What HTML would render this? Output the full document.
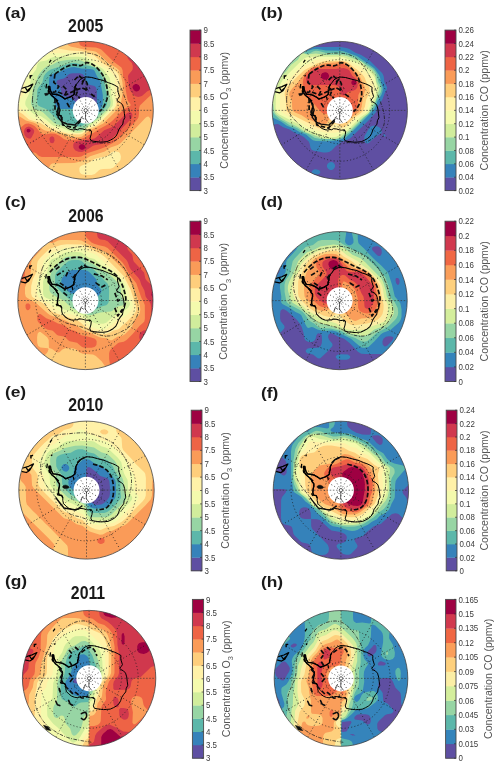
<!DOCTYPE html>
<html><head><meta charset="utf-8"><title>Figure</title><style>html,body{margin:0;padding:0;background:#fff}
svg{display:block}
text{font-family:"Liberation Sans",sans-serif}
.tk{font-size:9px;fill:#3a3a3a}
.ct{font-size:10.55px;fill:#555}
.lb{font-size:15px;font-weight:bold;fill:#1a1a1a}
.tt{font-size:17.6px;font-weight:bold;fill:#1a1a1a}
</style></head><body>
<svg width="500" height="767" viewBox="0 0 500 767">
<defs>
<clipPath id="cla"><ellipse cx="85.7" cy="110.3" rx="67.6" ry="69.0"/></clipPath>
<clipPath id="clb"><ellipse cx="339.8" cy="110.4" rx="67.6" ry="69.0"/></clipPath>
<clipPath id="clc"><ellipse cx="85.4" cy="300.5" rx="67.6" ry="69.1"/></clipPath>
<clipPath id="cld"><ellipse cx="339.6" cy="300.6" rx="67.6" ry="69.1"/></clipPath>
<clipPath id="cle"><ellipse cx="86.5" cy="490.1" rx="67.7" ry="69.0"/></clipPath>
<clipPath id="clf"><ellipse cx="340.9" cy="490.2" rx="67.7" ry="69.0"/></clipPath>
<clipPath id="clg"><ellipse cx="89.1" cy="678.3" rx="66.7" ry="67.9"/></clipPath>
<clipPath id="clh"><ellipse cx="341.0" cy="678.4" rx="66.8" ry="67.9"/></clipPath>
<g id="coast" fill="none" stroke="#000" stroke-width="1.0" stroke-linejoin="round"><path d="M0.0,-33.4 5.8,-32.9 11.4,-31.4 17.3,-30.0 20.2,-28.8 23.1,-27.6 26.5,-26.5 29.8,-25.0 33.0,-23.1 32.7,-20.4 33.3,-17.7 34.5,-13.9 33.3,-12.1 31.8,-10.3 32.9,-8.8 35.5,-7.6 37.7,-5.3 38.9,-1.4 39.5,3.5 40.0,7.1 38.4,10.3 37.9,13.8 35.6,16.6 33.7,19.5 32.6,22.8 30.9,25.9 28.2,28.2 25.1,29.9 21.9,31.3 18.3,31.6 14.8,31.8 11.4,31.4 8.3,31.0 5.4,30.4 4.4,28.0 5.6,24.3 6.0,20.8 4.5,19.4 1.7,19.8 0.0,19.6 -3.3,18.6 -6.6,18.3 -8.2,19.4 -10.1,19.1 -12.3,19.7 -15.1,19.3 -18.1,18.1 -20.7,16.2 -23.4,13.5 -24.2,10.3 -24.1,7.8 -25.2,5.4 -27.9,4.9 -28.6,2.5 -28.3,-1.0 -27.6,-3.9 -27.6,-6.4 -29.2,-8.4 -30.6,-11.1 -32.9,-13.3 -35.0,-14.9 -36.8,-17.2 -37.7,-20.1 -38.2,-23.8 -36.7,-23.8 -36.4,-21.0 -35.6,-18.9 -34.0,-16.2 -31.3,-16.0 -28.6,-15.5 -26.3,-14.6 -23.3,-12.9 -21.3,-11.3 -19.3,-12.1 -15.9,-13.3 -13.6,-14.6 -11.7,-16.1 -11.8,-18.1 -10.9,-20.6 -10.9,-23.4 -9.5,-26.1 -7.6,-28.2 -6.0,-30.6 -3.4,-32.2 0.0,-33.4Z"/><path d="M-24.1,7.8 -25.2,5.4 -27.9,4.9 -28.6,2.5 -28.3,-1.0 -27.6,-3.9 -27.6,-6.4 -29.2,-8.4 -30.6,-11.1 -32.9,-13.3 -35.0,-14.9 -36.8,-17.2 -37.7,-20.1 -38.2,-23.8 -36.7,-23.8 -36.4,-21.0 -35.6,-18.9 -34.0,-16.2 -31.3,-16.0 -28.6,-15.5 -26.3,-14.6 -23.3,-12.9 -21.3,-11.3 -19.3,-12.1 -15.9,-13.3 -13.6,-14.6 -11.7,-16.1 -11.8,-18.1 -10.9,-20.6 -10.9,-23.4 -9.5,-26.1" stroke-width="1.4"/><path d="M-66.5,-21.6 L-59,-23.8 L-54,-26.2 L-58,-19.6 L-61.3,-17.6 L-66.5,-18.8 M-61.5,-22.5 L-59.5,-19.5 L-57,-22" stroke-width="1.25"/><path d="M-37.2,-47.7 L-35.3,-50.5M-35.8,-34.0 L-35.1,-35.7M-40.5,-22.0 L-39.9,-26.4M-28.2,-9.2 L-31.5,-12.1M-28.6,5.6 L-30.0,3.2M-12.8,-10.3 L-13.5,-13.5M5.1,19.6 L3.9,20.9M-37.6,-17.1 L-38.5,-20.0M-56.7,-31.7 L-56.7,-35.2M-57.2,-33.4 L-54.5,-35.0" stroke-width="1.3"/></g>
<g id="grat" fill="none" stroke="#1a1a1a" stroke-width="0.8" stroke-dasharray="1 2.4"><circle r="16.6" fill="none"/><circle r="33.4" fill="none"/><circle r="50.8" fill="none"/><line x1="0" y1="0" x2="34.5" y2="-59.8"/><line x1="0" y1="0" x2="59.8" y2="-34.5"/><line x1="0" y1="0" x2="59.8" y2="34.5"/><line x1="0" y1="0" x2="34.5" y2="59.8"/><line x1="0" y1="0" x2="-34.5" y2="59.8"/><line x1="0" y1="0" x2="-59.8" y2="34.5"/><line x1="0" y1="0" x2="-59.8" y2="-34.5"/><line x1="0" y1="0" x2="-34.5" y2="-59.8"/><g stroke-dasharray="1.6 1.6" stroke="#333" stroke-width="0.65"><line x1="-69.0" y1="0" x2="69.0" y2="0"/><line x1="0" y1="-69.0" x2="0" y2="69.0"/></g></g>
<filter id="bl" x="-5%" y="-5%" width="110%" height="110%"><feGaussianBlur stdDeviation="0.45"/></filter>
</defs>
<rect width="500" height="767" fill="#fff"/>
<g clip-path="url(#cla)"><g filter="url(#bl)">
<circle cx="85.7" cy="110.3" r="72.0" fill="#5e4fa2"/>
<circle cx="85.7" cy="110.3" r="69.0" fill="#5e4fa2"/>
<path fill="#3682ba" fill-rule="evenodd" d="M4,28 166,28 166,190 4,190ZM72.6,73.2 69.7,73.8 68.2,74.7 65.4,77.6 63.8,78.5 59.5,79.4 57.1,80.5 56.4,82 56.8,83.5 60.3,87.8 61.5,93.7 62.4,95.2 63.8,96.3 69.7,97.5 71.1,98.2 75.5,102.1 81.4,103.2 82.9,103.9 84.6,105.4 87.2,111.4 88.6,113.2 90.1,113.5 93,112.7 94.5,111.3 95.3,109.7 96.8,103.9 96.9,92.2 96.2,87.8 94.5,85.9 88.6,84.6 86.6,83.5 85.6,82 84.4,76.2 82.8,74.2 79.9,73.2Z"/>
<path fill="#5cb7aa" fill-rule="evenodd" d="M4,28 166,28 166,190 4,190ZM71.1,67.2 64.9,68.9 59.5,71.9 58,72.6 53.6,73.4 50.7,75.2 49.4,77.6 49.1,79.1 49,90.8 49.5,93.7 50.2,95.1 54.2,99.5 55.4,105.4 56.1,106.8 57.8,108.3 60.9,108.9 77,109.1 79.9,109.5 82.1,111.2 84.3,116.2 85.7,117.9 87.2,118.5 88.6,118.5 91.6,117.6 94.5,116 97.4,113.3 101.7,106.8 102.8,103.9 102.8,95.1 100.3,81.2 97,76.2 94.5,70.8 93,69.6 90.1,69 81.4,68.5 74.1,67.1Z"/>
<path fill="#97d5a4" fill-rule="evenodd" d="M4,28 166,28 166,190 4,190ZM71.1,62.9 50.7,69.5 47.8,71.4 45.9,73.2 43.8,76.2 42.5,82 41.9,83.5 39,86.7 37.5,89.3 37.1,92.2 37.2,102.4 37.5,103.9 38.3,105.4 40.4,106.8 44.9,108.4 47.3,109.7 58,120 63.8,121.3 69.1,124.3 72.6,125.6 77,126.6 79.9,126.6 82.2,125.8 85.7,123.5 93,119.8 100.6,112.6 106,106.8 107.1,103.9 107.1,95.1 105,87.8 104.5,83.5 103.7,80.5 99.3,71.8 97,68.9 94.5,67.4 88.6,65.8 81.4,64.8 75.5,63Z"/>
<path fill="#d1ed9c" fill-rule="evenodd" d="M4,28 166,28 166,190 4,190ZM66.8,60 58,61.5 52.7,64.5 46.3,66.8 43.4,69 39.8,73.2 37.8,76.2 36.2,82 33.1,87.8 32.4,95.1 31.2,101 31.2,103.9 32.4,106.8 33.8,108.3 36.1,109.7 40.5,111.1 43.3,112.6 53.6,122.5 56.3,124.3 65.3,126.2 75.5,130.8 79.9,131.1 82.8,130 90.8,122.9 97.4,119 107.6,109.3 109.6,106.8 110.2,105.4 110.6,102.4 110.2,99.5 107.6,87.8 106.6,80.5 103.1,73.2 100.3,69.4 98.9,68.5 92,65.9 87.2,62.9 79.4,60.1 74.1,59.4Z"/>
<path fill="#f4faad" fill-rule="evenodd" d="M4,28 166,28 166,190 4,190ZM53.6,57 50.7,58 46.3,60.4 40.5,61.4 38.2,63 37.4,64.5 36.1,69.5 32,74.7 31.4,76.2 29.7,86.4 29,93.7 25.5,101 25.2,103.9 25.6,105.4 28.8,109.7 33.2,113.6 34.6,114.4 40.5,116.1 46.3,119.8 51.2,124.3 53.6,125.8 62.4,128.1 72.6,132.2 77,132.9 81.4,132.6 83.3,131.6 87.2,127.8 100.3,118.8 110.7,108.3 112.8,105.4 113.1,101 111,93.7 110.5,82 109.5,77.6 103,68.9 100.5,67.4 94.5,65.2 88.6,60.1 84.3,57.8 81.4,56.9 78.4,56.7Z"/>
<path fill="#fff1a8" fill-rule="evenodd" d="M31,28 166,28 166,190 4,190 4,73 20.1,73.1 23,74.2 24.4,76.2 24.9,80.5 24.6,92.2 23.1,95.1 19.6,99.5 19.2,101 19.1,103.9 19.5,105.4 21.4,108.3 28.6,115.6 32.8,118.5 39,119.6 41.9,120.5 44.9,122.1 50.7,126.3 58,128.7 66.8,132.2 71.1,132.9 77,133 79.9,132.9 82.8,132 87.2,127.9 93,125.5 101.1,119.9 113.5,107.6 114.6,105.4 114.9,103.9 114.9,79.1 114.2,76.2 110.7,71.8 107.6,69.5 97.4,63.9 91.6,58.8 89.2,57.2 84.3,54.7 81.4,53.6 78.4,53.3 53.6,53.2 46.3,53.9 44.9,53.5 39,48.2 32.2,41.1 31.2,38.2Z"/>
<path fill="#fece7c" fill-rule="evenodd" d="M49,28 166,28 166,190 4,190 4,108.9 12.8,108.9 15.7,109.7 23,114.3 28.8,119.4 40.4,122.9 47.8,127.6 53.6,129.5 58.8,131.6 69.7,134.3 78.4,134.6 81.4,134.2 82.8,133.6 88.6,128.7 94.5,126.6 97.4,125 101.8,121.1 114.6,108.3 116.2,105.4 117.2,99.5 119,93.7 119.3,89.3 119.2,77.6 118.5,74.7 116.6,71.8 113.5,69.4 103.2,63.8 94.5,55.8 91.6,54.2 81.4,50.9 69.7,50.5 59.5,48.7 56.5,47.5 50.7,41.7 49.5,39.7 49,36.8ZM112,152.1 107.6,155.8 106.2,156.5 100.3,157.5 94.5,159.1 88.6,162.8 81.4,165.8 80.3,166.6 79.4,168.1 79.4,171 79.9,172.5 81.3,173.9 82.8,174.6 85.7,175 91.6,174.9 94.9,173.9 98.9,170.2 100.3,169.5 103.2,169 110.5,168.8 113.5,167.6 120,160.8 120.6,159.4 120.9,156.4 120.1,153.5 118.7,152.1 114.9,151.3Z"/>
<path fill="#fa9b58" fill-rule="evenodd" d="M67,28 166,28 166,133 155.8,132.8 152.9,131.7 151.7,130.2 151.2,128.7 150.9,121.4 150.3,118.5 148.5,116.6 147,116.7 145.6,117.7 138,125.8 120.8,143 117.8,145.1 110.5,147.5 104.7,151.4 90.1,156.3 84.3,160 81.4,161.3 74.1,163 55.1,163.2 52.2,163.6 50.7,164.5 49.4,166.6 48.2,172.5 44.2,176.9 43.5,178.3 43,181.2 43,190 4,190 4,115.1 14.2,115.3 20.1,116.8 25.9,120.4 33.2,122.4 36.1,123.8 41.9,128.8 44.9,130.5 52.2,131.7 60.9,133.7 69.7,136.9 72.6,137.3 78.4,137.3 81.4,136.8 82.8,136 88.6,131.3 103.2,123.4 117.2,109.7 120.4,105.4 122.6,93.7 122.7,84.9 122.4,82 120.7,74.7 119.1,70.3 116.4,67.8 108.2,63 98.9,53.9 95.9,51.8 93,50.9 87.2,50.2 75.5,47.4 71.1,46.7 68.5,45.5 67.5,44.1 67.1,42.6Z"/>
<path fill="#ee6445" fill-rule="evenodd" d="M79,28 166,28 166,93 154.3,93.4 151.4,94.8 148.5,97.3 139.9,105.4 139.1,108.3 139,114.1 138.5,117 137.9,118.5 135.5,121.4 116.4,140.5 112.3,143.3 104.7,147.2 100.3,149 87.2,153.3 81.4,156.4 78.4,156.9 41.9,156.9 39,155.9 36.1,153.3 34.6,152.6 33.2,152.6 31.7,153.5 26.9,157.9 17.1,167.8 14.2,168.8 4,169 4,133 12.8,132.9 15.7,132.5 17.3,131.6 21.1,127.2 24.4,124.4 25.9,123.7 28.8,123.5 31.7,124.4 34.6,126.1 37.3,128.7 40.5,133 41.9,133.8 44.9,134.4 50.7,133.5 55.1,133.8 59.5,135.8 63.8,139 68.2,140.4 81.4,138.7 84.3,137.8 88.6,135 93,133.2 98.9,129.2 108,124.3 111.6,121.4 123.7,109.6 126.6,107.8 129,106.8 130.6,105.4 130.4,103.9 128.1,101 127.5,99.5 125.6,89.3 125,82 123.1,76.2 122.6,70.3 121.4,67.4 113.4,61.6 101.8,50.1 100.3,49.1 95.9,47.5 84.3,46.9 82.8,46.6 80.5,45.5 79.5,44.1 79.1,42.6Z"/>
<path fill="#d0384e" fill-rule="evenodd" d="M133,28 166,28 166,89 155.8,89.1 149.9,90.1 147,91.5 142.6,95.5 141.2,96.3 138.3,96.9 135.4,96.3 133.9,95.3 130.3,90.8 129.1,87.8 128,76.2 128.5,74.7 132.2,70.3 132.7,68.9 132.8,65.9 131.9,63 128.1,58.9 127.4,57.2 127,49.9 127.8,45.5 131.8,41.1 132.5,39.7 133,36.8ZM127.9,112.6 129.5,112.2 131,112.3 132.4,114 132.4,116.3 131.5,118.5 113,137.5 107.8,141.8 101.8,144 94.5,145.2 93,145.7 88.2,149.1 82.8,151.8 81.4,152.1 78.4,151.8 75.5,150.6 74.1,149.1 73.4,147.7 73.2,144.8 73.7,143.3 75.2,141.8 78.4,140.9 84.3,140.3 94.5,138.4 95.9,137.5 104.2,130.2 110.5,127.8 113.5,126.2 123.7,116ZM26.4,127.2 28.8,126.6 30.3,126.9 33.1,128.7 34.1,130.2 34.2,131.6 33.9,133.1 31.7,137.3 30.3,138.7 28.8,138.6 26.5,137.5 25.1,136 24.4,134.5 23.9,131.6 24.2,130.2 24.9,128.7ZM49.9,137.5 50.7,136.7 52.2,136.3 54.1,137.5 54.6,140.4 53.6,142.7 52.5,143.3 50.7,143 49.9,141.8 49.4,138.9ZM32.7,140.4 33.5,140.4 34.6,142 33.2,142.3 32.7,141.8Z"/>
<path fill="#9e0142" fill-rule="evenodd" d="M133.5,84.9 135.4,84 136.8,84.1 138.6,84.9 139.7,86.4 140,87.8 139.8,89.3 138.7,90.8 136.8,91.5 135.4,91.2 133.9,90.3 132.5,87.8 132.6,86.4ZM27.4,128.9 29.3,128.7 30.7,130.2 30.3,131.6 28.8,132.6 27.4,132.3 26.8,131.6 26.6,130.2ZM80,144.8 81.4,144.3 82.8,144.3 84.3,144.9 85.2,146.2 85.2,147.7 84.3,149.1 82.8,149.7 81.4,149.8 79.8,149.1 78.8,147.7 78.8,146.2Z"/>
<ellipse cx="85.7" cy="110.3" rx="13.0" ry="13.3" fill="#fff"/>
<g transform="translate(85.7,110.3) scale(0.9797,1.0000)"><use href="#grat"/><use href="#coast"/>
<g fill="none" stroke="#222" stroke-width="0.7" stroke-linejoin="round"><circle r="1.7" fill="#fff"/><path d="M0,1.7 L-0.3,8.4 L2.7,12.3"/><path d="M-5.8,11.6 L-4.6,7 L-1.6,8.8"/></g>
</g>
<path d="M32.5,99.5 32.6,97.1 32.9,94.5 33.3,91.9 33.9,89.3 34.7,86.8 35.5,84.5 36.4,82.3 37.5,80.3 38.7,78.3 40.0,76.4 41.4,74.5 43.0,72.5 44.7,70.4 46.6,68.3 48.5,66.1 50.6,64.1 52.8,62.2 55.0,60.5 57.3,59.1 59.8,57.9 62.3,56.8 64.9,55.9 67.5,55.2 70.0,54.5 72.5,53.9 75.1,53.5 77.7,53.2 80.2,53.0 82.7,53.0 85.0,53.0 87.2,53.1 89.3,53.4 91.4,53.7 93.3,54.1 95.2,54.7 97.0,55.4 98.7,56.2 100.3,57.1 101.8,58.2 103.2,59.4 104.6,60.6 106.0,62.0 107.4,63.5 108.7,65.2 109.9,66.9 111.2,68.7 112.4,70.6 113.5,72.5 114.6,74.4 115.6,76.3 116.6,78.2 117.6,80.2 118.5,82.3 119.5,84.5 120.5,86.8 121.6,89.3 122.6,91.8 123.6,94.4 124.6,97.0 125.5,99.5 126.4,102.0 127.3,104.6 128.2,107.1 129.0,109.6 129.6,112.1 130.0,114.5 130.2,116.8 130.4,119.1 130.4,121.4 130.1,123.6 129.5,125.8 128.5,128.0 127.0,130.3 124.9,132.6 122.6,135.0 120.1,137.2 117.5,139.1 115.0,140.6 112.6,141.7 110.2,142.4 107.8,142.8 105.3,143.0 102.7,143.0 100.0,143.0 97.1,142.8 94.0,142.4 90.8,141.9 87.7,141.3 84.7,140.6 82.0,140.0 79.7,139.4 77.6,138.8 75.6,138.1 73.8,137.4 71.9,136.7 70.0,136.1 68.0,135.5 66.0,135.0 64.0,134.5 62.0,134.0 60.0,133.3 58.0,132.5 56.0,131.5 53.9,130.5 51.9,129.3 49.9,128.0 47.9,126.6 46.0,125.0 44.1,123.3 42.1,121.4 40.2,119.4 38.4,117.3 36.8,115.1 35.5,113.0 34.5,110.9 33.7,108.7 33.2,106.4 32.8,104.2 32.6,101.9Z" fill="none" stroke="#1a1a1a" stroke-width="0.75" stroke-dasharray="3.6 1.4 0.9 1.4"/>
<path d="M55.0,74.0 55.8,73.4 56.9,72.6 58.2,71.7 59.6,70.7 61.1,69.7 62.5,68.9 63.9,68.1 65.4,67.3 66.9,66.6 68.4,65.9 70.0,65.4 71.5,65.0 73.0,64.9 74.6,65.0 76.1,65.2 77.7,65.5 79.1,65.7 80.5,65.6 81.8,65.2 82.9,64.6 84.0,63.9 85.1,63.2 86.2,62.7 87.4,62.6 88.7,62.8 90.0,63.2 91.4,63.8 92.8,64.6 94.2,65.5 95.5,66.5 96.8,67.7 98.2,69.1 99.5,70.6 100.8,72.2 102.0,73.9 103.0,75.5 103.9,77.2 104.6,78.9 105.2,80.7 105.7,82.4 106.2,84.2 106.6,86.0 107.0,87.8 107.3,89.5 107.5,91.3 107.6,93.0 107.6,94.8 107.5,96.5 107.2,98.2 106.7,100.0 106.0,101.8 105.3,103.5 104.6,105.0 103.9,106.4 103.1,107.6 102.3,108.6 101.4,109.6 100.6,110.4 99.9,111.0 99.4,111.5" fill="none" stroke="#0d0d0d" stroke-width="1.7" stroke-dasharray="4.6 2" stroke-linejoin="round" stroke-linecap="butt"/>
<path d="M55.0,74.0 53.8,82.4 58.9,86.6 55.0,92.0 47.5,93.5" fill="none" stroke="#0d0d0d" stroke-width="1.7" stroke-dasharray="4.6 2" stroke-linejoin="round" stroke-linecap="butt"/>
<path d="M58.0,92.0 65.5,95.0 74.5,90.8 82.0,87.8 88.6,90.8" fill="none" stroke="#0d0d0d" stroke-width="1.7" stroke-dasharray="4.6 2" stroke-linejoin="round" stroke-linecap="butt"/>
<path d="M55.0,98.6 55.0,110.0 61.0,116.0 62.8,125.0 74.2,128.0 80.5,121.1" fill="none" stroke="#0d0d0d" stroke-width="1.7" stroke-dasharray="4.6 2" stroke-linejoin="round" stroke-linecap="butt"/>
<path d="M74.5,80.0 79.0,75.5 83.5,80.0 82.0,84.5" fill="none" stroke="#0d0d0d" stroke-width="1.7" stroke-dasharray="4.6 2" stroke-linejoin="round" stroke-linecap="butt"/>
<path d="M63.0,86.0 67.0,90.0 65.0,95.0" fill="none" stroke="#0d0d0d" stroke-width="1.7" stroke-dasharray="4.6 2" stroke-linejoin="round" stroke-linecap="butt"/>
<path d="M74.0,87.0 78.0,90.0 76.0,95.0 80.0,98.0" fill="none" stroke="#0d0d0d" stroke-width="1.7" stroke-dasharray="4.6 2" stroke-linejoin="round" stroke-linecap="butt"/>
<path d="M82.0,82.0 85.0,79.0 87.4,84.0 86.0,90.0 90.0,88.0" fill="none" stroke="#0d0d0d" stroke-width="1.7" stroke-dasharray="4.6 2" stroke-linejoin="round" stroke-linecap="butt"/>
<path d="M91.0,94.0 95.0,97.0" fill="none" stroke="#0d0d0d" stroke-width="1.7" stroke-dasharray="4.6 2" stroke-linejoin="round" stroke-linecap="butt"/>
<path d="M67.0,103.0 70.0,108.0" fill="none" stroke="#0d0d0d" stroke-width="1.7" stroke-dasharray="4.6 2" stroke-linejoin="round" stroke-linecap="butt"/>
<path d="M57.0,102.0 60.0,110.0 58.0,117.0 62.0,122.0 67.0,124.0 75.0,125.0 80.0,120.0" fill="none" stroke="#0d0d0d" stroke-width="1.4" stroke-linejoin="round" stroke-linecap="round"/>
<path d="M44.6,93.6 47.4,93.2 48.2,94.8 45.4,95.6Z" fill="#0d0d0d" stroke="#0d0d0d" stroke-width="0.6"/>
</g></g>
<ellipse cx="85.7" cy="110.3" rx="67.6" ry="69.0" fill="none" stroke="#3a3a3a" stroke-width="0.75"/>
<rect x="190.0" y="177.22" width="11" height="13.68" fill="#5e4fa2"/>
<rect x="190.0" y="163.85" width="11" height="13.68" fill="#3682ba"/>
<rect x="190.0" y="150.47" width="11" height="13.68" fill="#5cb7aa"/>
<rect x="190.0" y="137.10" width="11" height="13.68" fill="#97d5a4"/>
<rect x="190.0" y="123.72" width="11" height="13.68" fill="#d1ed9c"/>
<rect x="190.0" y="110.35" width="11" height="13.68" fill="#f4faad"/>
<rect x="190.0" y="96.97" width="11" height="13.68" fill="#fff1a8"/>
<rect x="190.0" y="83.60" width="11" height="13.68" fill="#fece7c"/>
<rect x="190.0" y="70.22" width="11" height="13.68" fill="#fa9b58"/>
<rect x="190.0" y="56.85" width="11" height="13.68" fill="#ee6445"/>
<rect x="190.0" y="43.47" width="11" height="13.68" fill="#d0384e"/>
<rect x="190.0" y="30.10" width="11" height="13.68" fill="#9e0142"/>
<rect x="190.0" y="30.1" width="11" height="160.50" fill="none" stroke="#4a4a4a" stroke-width="0.9"/>
<line x1="199.0" y1="190.60" x2="201.0" y2="190.60" stroke="#333" stroke-width="0.7"/>
<text class="tk" transform="translate(203.4,193.70) scale(0.88,1)">3</text>
<line x1="199.0" y1="177.22" x2="201.0" y2="177.22" stroke="#333" stroke-width="0.7"/>
<text class="tk" transform="translate(203.4,180.32) scale(0.88,1)">3.5</text>
<line x1="199.0" y1="163.85" x2="201.0" y2="163.85" stroke="#333" stroke-width="0.7"/>
<text class="tk" transform="translate(203.4,166.95) scale(0.88,1)">4</text>
<line x1="199.0" y1="150.47" x2="201.0" y2="150.47" stroke="#333" stroke-width="0.7"/>
<text class="tk" transform="translate(203.4,153.57) scale(0.88,1)">4.5</text>
<line x1="199.0" y1="137.10" x2="201.0" y2="137.10" stroke="#333" stroke-width="0.7"/>
<text class="tk" transform="translate(203.4,140.20) scale(0.88,1)">5</text>
<line x1="199.0" y1="123.72" x2="201.0" y2="123.72" stroke="#333" stroke-width="0.7"/>
<text class="tk" transform="translate(203.4,126.82) scale(0.88,1)">5.5</text>
<line x1="199.0" y1="110.35" x2="201.0" y2="110.35" stroke="#333" stroke-width="0.7"/>
<text class="tk" transform="translate(203.4,113.45) scale(0.88,1)">6</text>
<line x1="199.0" y1="96.97" x2="201.0" y2="96.97" stroke="#333" stroke-width="0.7"/>
<text class="tk" transform="translate(203.4,100.07) scale(0.88,1)">6.5</text>
<line x1="199.0" y1="83.60" x2="201.0" y2="83.60" stroke="#333" stroke-width="0.7"/>
<text class="tk" transform="translate(203.4,86.70) scale(0.88,1)">7</text>
<line x1="199.0" y1="70.22" x2="201.0" y2="70.22" stroke="#333" stroke-width="0.7"/>
<text class="tk" transform="translate(203.4,73.32) scale(0.88,1)">7.5</text>
<line x1="199.0" y1="56.85" x2="201.0" y2="56.85" stroke="#333" stroke-width="0.7"/>
<text class="tk" transform="translate(203.4,59.95) scale(0.88,1)">8</text>
<line x1="199.0" y1="43.47" x2="201.0" y2="43.47" stroke="#333" stroke-width="0.7"/>
<text class="tk" transform="translate(203.4,46.57) scale(0.88,1)">8.5</text>
<line x1="199.0" y1="30.10" x2="201.0" y2="30.10" stroke="#333" stroke-width="0.7"/>
<text class="tk" transform="translate(203.4,33.20) scale(0.88,1)">9</text>
<text class="ct" transform="translate(227.6,110.3) rotate(-90)" text-anchor="middle">Concentration O<tspan dy="3.6" font-size="7.4">3</tspan><tspan dy="-3.6"> (ppmv)</tspan></text>
<g clip-path="url(#clb)"><g filter="url(#bl)">
<circle cx="339.8" cy="110.4" r="72.0" fill="#5e4fa2"/>
<circle cx="339.8" cy="110.4" r="69.0" fill="#5e4fa2"/>
<path fill="#3682ba" fill-rule="evenodd" d="M259,28 298.1,28 298.4,38.2 299.9,40.9 301.3,42 307.2,43.6 311.5,46.2 314.5,46.9 340.7,47.1 346.6,47.9 349.5,49.1 355.3,52.8 361.2,55 369.1,60.1 382.3,73.2 383.7,76.2 384.4,82 386.7,86.4 387,87.8 386.8,89.3 384.5,93.5 382.4,99.5 378.7,105.1 375.7,112.6 368.5,120.4 350.9,137.7 348,139.6 341.8,141.8 335.7,146.2 331.6,150.6 329.1,151.9 326.1,152.6 323.2,152.5 313,150.4 311.5,149.4 310.5,147.7 309.5,143.3 308.9,141.8 304.2,137.3 301.3,135.4 295,133.1 289.6,129.6 283.3,127.2 278,124.1 275.1,124.2 272.1,125.9 269.2,126.8 259,127ZM372.3,125.8 375.8,125.8 379.2,127.2 380.7,128.7 381.4,130.2 381.7,133.1 378.7,134.5 371.4,140.4 368.5,143.2 367,143.6 365.5,143 364.8,141.8 364.1,138.9 364.6,136 369.7,127.2ZM382.9,134.5 384.5,134.3 385.8,136 384.5,136.6 383.6,136ZM329.6,162.3 332,162.1 333.4,162.8 334.3,163.7 335,165.2 335,166.6 334.4,168.1 333.4,169.2 332,169.9 330.5,170 329,169.6 327.5,168.1 326.9,166.6 327,165.2 327.6,163.7ZM313.9,169.6 315.9,169.3 318.8,169.9 320.1,171 320.3,172.5 319.2,173.9 317.4,174.6 314.5,174.6 313,174.1 311.7,172.5 311.9,171Z"/>
<path fill="#5cb7aa" fill-rule="evenodd" d="M259,28 291.9,28 292,38.2 292.9,41.1 294,42.6 297.3,45.5 302.8,48.2 305.7,50.3 307.2,50.9 313,49.2 317.4,49.1 326.1,50.5 340.7,50.8 343.6,51.2 356.8,56 367,62.9 374.3,68.2 378.8,74.7 380.1,77.6 380.8,82 382.9,87.8 382.7,90.8 381.6,94.5 377.5,101 375.5,106.8 374.3,109 369.8,114.1 350.9,133 345.8,137.5 342.2,139.1 336.4,140.5 326.1,141.3 315.9,140.9 313,140.2 311.5,139.3 306.1,134.5 299.9,132.3 294,128.5 286.8,125.8 280.9,121.5 274.6,118.5 270.7,115.9 267.8,115.1 259,115Z"/>
<path fill="#97d5a4" fill-rule="evenodd" d="M259,28 274,28 274.2,38.2 275.2,41.1 288.1,54.3 292.6,57.3 294.3,57.2 295.5,55.9 297,51.4 298.4,50.2 299.9,49.9 301.3,50.1 302.8,50.9 305.7,53.4 307.2,53.9 310.1,53.2 313,51.4 315.9,50.8 318.8,51 326.1,53.1 342.2,53.5 350.9,55.4 353.9,56.4 359.2,60.1 364.1,62.8 367,65.1 372.8,68.8 375.3,71.8 376.8,74.7 378.4,82 381,86.4 381.4,89.3 380.8,92.2 377,98.1 374.3,105.4 369.3,112.6 349.5,132.4 342.1,137.5 339.3,138.4 336.4,138.9 320.3,138.9 314.5,137.7 308.6,133.9 302.2,131.6 296.9,128.1 289.6,125.3 285.3,122.2 279.4,118.9 275.1,114.9 273.2,112.6 271.1,105.4 269.8,103.9 267.8,103.1 259,103 259,73 273.6,73 279.6,71.8 282.4,70.5 283.8,68.9 284.8,65.9 284.6,63 278,55.8 271.6,49.9 267.8,49 259,49Z"/>
<path fill="#d1ed9c" fill-rule="evenodd" d="M300.7,54.3 301.3,53.6 302.8,53.6 307.2,54.6 315.9,53.4 326.1,54.9 340.7,55 346.6,55.9 361.3,61.6 365.8,65.9 371.9,70.3 374.3,73 375.2,74.7 376.4,82 379.1,87.8 379.3,89.3 375.4,101 371.6,106.8 369.2,112.6 367.9,114.1 363.5,117 359.7,120.4 349.5,130.6 339.3,137.7 336.4,138.7 332,139 324.7,138.8 320.3,137.8 312.7,134.5 305.7,132.3 298.4,127.2 285.3,120.6 276.5,114.4 274.9,112.6 274.4,111.2 273.7,105.4 272.4,99.5 271.8,95.1 270.7,92.2 269.2,91.3 267.8,91 259,90.9 259,85.1 272.1,85 275.1,84.5 276.5,83.6 277.6,82 279.5,77.6 280.6,76.2 286,71.8 291.1,64.8 297.6,60.1 298.7,58.6Z"/>
<path fill="#f4faad" fill-rule="evenodd" d="M307.1,57.2 313,56.7 336.4,56.7 343.6,57.2 353.9,61.8 361.2,63.6 367.1,68.9 372.8,74.7 374.8,77.6 376.9,86.4 376.7,90.8 374.9,98.1 371.1,103.9 368.4,111.2 367,113 360.9,117 350.9,127 346.6,130.9 336.4,136.8 332,137.3 324.7,136.9 314.5,132.3 307.2,130.6 299.9,125 279.4,114.6 277,112.6 276.2,111.2 275.7,106.8 276,93.7 276.8,90.8 282.4,80.6 285.3,76.8 298.4,63.7 304.2,58.5Z"/>
<path fill="#fff1a8" fill-rule="evenodd" d="M315.4,60.1 321.8,59.3 340.7,59.4 343.6,59.8 349.5,61.4 355.3,64.9 359.7,66.6 362.6,68.7 368.4,74.7 372.8,80.2 373.6,82 374.3,87.8 374,93.7 372.8,96.6 369.8,101 367.3,108.3 365.7,111.2 362.7,114.1 356.8,117.7 343.6,130.1 340.7,131.5 334.9,132.8 326.1,132.8 318.8,131.1 310.1,128.1 307.2,126.7 301.6,122.9 284.4,114.1 282.2,112.6 280.9,111.2 280.3,109.7 280,105.4 280.2,95.1 282,87.8 283.5,84.9 299.9,68.3 302.8,66.4 307.6,64.5 312,61.6Z"/>
<path fill="#fece7c" fill-rule="evenodd" d="M322.7,61.6 327.6,61 340.7,61 345.1,61.5 348,62.5 353.9,67.6 358.2,70.5 362.6,74.7 364.6,77.6 366.9,83.5 369.5,87.8 369.7,92.2 366.2,99.5 364.9,106.8 362.6,111.2 359.7,114 354.9,117 346,125.8 343.6,127.3 342.2,127.6 340.7,127.2 336.4,123.5 334.9,123.7 330.5,127.2 327.6,128.1 323.2,128.6 318.8,128.2 290.4,114.1 288.2,112.6 286.9,111.2 286.3,109.7 285.8,101 284.6,93.7 285.1,90.8 286.5,87.8 296.9,77 304.1,70.3 315.9,64Z"/>
<path fill="#fa9b58" fill-rule="evenodd" d="M342,61.6 343.6,61.7 346.6,63.2 357.2,73.2 360.3,77.6 364.5,86.4 365,87.8 365,90.8 362.8,98.1 361.7,106.8 360.6,109.7 358.6,112.6 343.6,122.1 342.2,121.7 339.5,118.5 337.8,117.5 336.4,117.1 333.4,116.9 332,117.2 329.4,118.5 327.1,122.9 326.1,123.8 324.7,124.6 321.8,124.9 318.4,124.3 313,120.9 306.5,118.5 301.3,115 295.1,112.6 293.2,111.2 292.2,108.3 291.9,101 289.2,95.1 289.5,92.2 292.6,88.1 298.4,82.1 304.8,73.2 309.8,68.9 311.5,67.8 323.2,63.6 326.1,62.9 334.9,62.6Z"/>
<path fill="#ee6445" fill-rule="evenodd" d="M334.9,65.2 342.2,63.8 343.6,64.1 349.2,67.4 350.9,68.9 357.2,77.6 360.9,84.9 361.5,87.8 361.3,89.3 358.4,95.1 357.8,103.9 356.9,108.3 355.6,111.2 354.1,112.6 348,114.6 343.6,114.6 339.3,113.5 334.9,113 324.7,114.1 323.2,113.5 321.8,112.4 317.7,108.3 314.5,104.3 311.5,101.8 305.2,95.1 304.2,92.7 302.9,84.9 302.8,82 303.3,79.1 305.2,74.7 311,68.9 313,67.6 326.1,65.5Z"/>
<path fill="#d0384e" fill-rule="evenodd" d="M315.9,69.1 334.9,68.9 343.6,67.9 347.2,68.9 349.2,70.3 352.4,76 355.3,78.3 357,80.5 357.8,84.9 357.2,87.8 355.3,89.8 353.9,90.6 348,92.1 345.1,94.7 343.6,95.4 342.2,95.3 340.7,93.7 339.3,87.8 338.2,86.4 336.4,85.4 333.4,85 311.5,85 308.6,84.4 307.3,83.5 306.5,82 306.1,79.1 306.3,77.6 307.2,75.8 313,70Z"/>
<path fill="#9e0142" fill-rule="evenodd" d="M322.1,73.2 324.7,72.2 326.1,72.3 327.9,73.2 328.8,74.7 329.1,76.2 328.7,77.6 327.6,79 326.1,79.7 324.7,79.8 323.2,79.5 321.8,78.3 320.9,76.2 321.1,74.7ZM352.2,80.5 353.9,80.1 355.3,80.4 356.6,82 356.4,83.5 355.3,84.9 353.9,85.3 352.6,84.9 351.4,83.5 351.3,82Z"/>
<ellipse cx="339.8" cy="110.4" rx="13.0" ry="13.3" fill="#fff"/>
<g transform="translate(339.8,110.4) scale(0.9797,1.0000)"><use href="#grat"/><use href="#coast"/>
<g fill="none" stroke="#222" stroke-width="0.7" stroke-linejoin="round"><circle r="1.7" fill="#fff"/><path d="M0,1.7 L-0.3,8.4 L2.7,12.3"/><path d="M-5.8,11.6 L-4.6,7 L-1.6,8.8"/></g>
</g>
<path d="M286.6,99.6 286.7,97.2 287.0,94.6 287.4,92.0 288.0,89.4 288.8,86.9 289.6,84.6 290.5,82.4 291.6,80.4 292.8,78.4 294.1,76.5 295.5,74.6 297.1,72.6 298.8,70.5 300.7,68.4 302.6,66.2 304.7,64.2 306.9,62.3 309.1,60.6 311.4,59.2 313.9,58.0 316.4,56.9 319.0,56.0 321.6,55.3 324.1,54.6 326.6,54.0 329.2,53.6 331.8,53.3 334.3,53.1 336.8,53.1 339.1,53.1 341.3,53.2 343.4,53.5 345.5,53.8 347.4,54.2 349.3,54.8 351.1,55.5 352.8,56.3 354.4,57.2 355.9,58.3 357.3,59.5 358.7,60.7 360.1,62.1 361.5,63.6 362.8,65.3 364.0,67.0 365.3,68.8 366.5,70.7 367.6,72.6 368.7,74.5 369.7,76.4 370.7,78.3 371.7,80.3 372.6,82.4 373.6,84.6 374.6,86.9 375.7,89.4 376.7,91.9 377.7,94.5 378.7,97.1 379.6,99.6 380.5,102.1 381.4,104.7 382.3,107.2 383.1,109.7 383.7,112.2 384.1,114.6 384.3,116.9 384.5,119.2 384.5,121.5 384.2,123.7 383.6,125.9 382.6,128.1 381.1,130.4 379.0,132.7 376.7,135.1 374.2,137.3 371.6,139.2 369.1,140.7 366.7,141.8 364.3,142.5 361.9,142.9 359.4,143.1 356.8,143.1 354.1,143.1 351.2,142.9 348.1,142.5 344.9,142.0 341.8,141.4 338.8,140.7 336.1,140.1 333.8,139.5 331.7,138.9 329.7,138.2 327.9,137.5 326.0,136.8 324.1,136.2 322.1,135.6 320.1,135.1 318.1,134.6 316.1,134.1 314.1,133.4 312.1,132.6 310.1,131.6 308.0,130.6 306.0,129.4 304.0,128.1 302.0,126.7 300.1,125.1 298.2,123.4 296.2,121.5 294.3,119.5 292.5,117.4 290.9,115.2 289.6,113.1 288.6,111.0 287.8,108.8 287.3,106.5 286.9,104.3 286.7,102.0Z" fill="none" stroke="#1a1a1a" stroke-width="0.75" stroke-dasharray="3.6 1.4 0.9 1.4"/>
<path d="M309.1,74.1 309.9,73.5 311.0,72.7 312.3,71.8 313.7,70.8 315.2,69.8 316.6,69.0 318.0,68.2 319.5,67.4 321.0,66.7 322.5,66.0 324.1,65.5 325.6,65.1 327.1,65.0 328.7,65.1 330.2,65.3 331.8,65.6 333.2,65.8 334.6,65.7 335.9,65.3 337.0,64.7 338.1,64.0 339.2,63.3 340.3,62.8 341.5,62.7 342.8,62.9 344.1,63.3 345.5,63.9 346.9,64.7 348.3,65.6 349.6,66.6 350.9,67.8 352.3,69.2 353.6,70.7 354.9,72.3 356.1,74.0 357.1,75.6 358.0,77.3 358.7,79.0 359.3,80.8 359.8,82.5 360.3,84.3 360.7,86.1 361.1,87.9 361.4,89.6 361.6,91.4 361.7,93.1 361.7,94.9 361.6,96.6 361.3,98.3 360.8,100.1 360.1,101.9 359.4,103.6 358.7,105.1 358.0,106.5 357.2,107.7 356.4,108.7 355.5,109.7 354.7,110.5 354.0,111.1 353.5,111.6" fill="none" stroke="#0d0d0d" stroke-width="1.7" stroke-dasharray="4.6 2" stroke-linejoin="round" stroke-linecap="butt"/>
<path d="M309.1,74.1 307.9,82.5 313.0,86.7 309.1,92.1 301.6,93.6" fill="none" stroke="#0d0d0d" stroke-width="1.7" stroke-dasharray="4.6 2" stroke-linejoin="round" stroke-linecap="butt"/>
<path d="M312.1,92.1 319.6,95.1 328.6,90.9 336.1,87.9 342.7,90.9" fill="none" stroke="#0d0d0d" stroke-width="1.7" stroke-dasharray="4.6 2" stroke-linejoin="round" stroke-linecap="butt"/>
<path d="M309.1,98.7 309.1,110.1 315.1,116.1 316.9,125.1 328.3,128.1 334.6,121.2" fill="none" stroke="#0d0d0d" stroke-width="1.7" stroke-dasharray="4.6 2" stroke-linejoin="round" stroke-linecap="butt"/>
<path d="M328.6,80.1 333.1,75.6 337.6,80.1 336.1,84.6" fill="none" stroke="#0d0d0d" stroke-width="1.7" stroke-dasharray="4.6 2" stroke-linejoin="round" stroke-linecap="butt"/>
<path d="M317.1,86.1 321.1,90.1 319.1,95.1" fill="none" stroke="#0d0d0d" stroke-width="1.7" stroke-dasharray="4.6 2" stroke-linejoin="round" stroke-linecap="butt"/>
<path d="M328.1,87.1 332.1,90.1 330.1,95.1 334.1,98.1" fill="none" stroke="#0d0d0d" stroke-width="1.7" stroke-dasharray="4.6 2" stroke-linejoin="round" stroke-linecap="butt"/>
<path d="M336.1,82.1 339.1,79.1 341.5,84.1 340.1,90.1 344.1,88.1" fill="none" stroke="#0d0d0d" stroke-width="1.7" stroke-dasharray="4.6 2" stroke-linejoin="round" stroke-linecap="butt"/>
<path d="M345.1,94.1 349.1,97.1" fill="none" stroke="#0d0d0d" stroke-width="1.7" stroke-dasharray="4.6 2" stroke-linejoin="round" stroke-linecap="butt"/>
<path d="M321.1,103.1 324.1,108.1" fill="none" stroke="#0d0d0d" stroke-width="1.7" stroke-dasharray="4.6 2" stroke-linejoin="round" stroke-linecap="butt"/>
<path d="M311.1,102.1 314.1,110.1 312.1,117.1 316.1,122.1 321.1,124.1 329.1,125.1 334.1,120.1" fill="none" stroke="#0d0d0d" stroke-width="1.4" stroke-linejoin="round" stroke-linecap="round"/>
<path d="M298.7,93.7 301.5,93.3 302.3,94.9 299.5,95.7Z" fill="#0d0d0d" stroke="#0d0d0d" stroke-width="0.6"/>
</g></g>
<ellipse cx="339.8" cy="110.4" rx="67.6" ry="69.0" fill="none" stroke="#3a3a3a" stroke-width="0.75"/>
<rect x="445.0" y="177.22" width="11" height="13.68" fill="#5e4fa2"/>
<rect x="445.0" y="163.85" width="11" height="13.68" fill="#3682ba"/>
<rect x="445.0" y="150.47" width="11" height="13.68" fill="#5cb7aa"/>
<rect x="445.0" y="137.10" width="11" height="13.68" fill="#97d5a4"/>
<rect x="445.0" y="123.72" width="11" height="13.68" fill="#d1ed9c"/>
<rect x="445.0" y="110.35" width="11" height="13.68" fill="#f4faad"/>
<rect x="445.0" y="96.97" width="11" height="13.68" fill="#fff1a8"/>
<rect x="445.0" y="83.60" width="11" height="13.68" fill="#fece7c"/>
<rect x="445.0" y="70.22" width="11" height="13.68" fill="#fa9b58"/>
<rect x="445.0" y="56.85" width="11" height="13.68" fill="#ee6445"/>
<rect x="445.0" y="43.47" width="11" height="13.68" fill="#d0384e"/>
<rect x="445.0" y="30.10" width="11" height="13.68" fill="#9e0142"/>
<rect x="445.0" y="30.1" width="11" height="160.50" fill="none" stroke="#4a4a4a" stroke-width="0.9"/>
<line x1="454.0" y1="190.60" x2="456.0" y2="190.60" stroke="#333" stroke-width="0.7"/>
<text class="tk" transform="translate(458.4,193.70) scale(0.88,1)">0.02</text>
<line x1="454.0" y1="177.22" x2="456.0" y2="177.22" stroke="#333" stroke-width="0.7"/>
<text class="tk" transform="translate(458.4,180.32) scale(0.88,1)">0.04</text>
<line x1="454.0" y1="163.85" x2="456.0" y2="163.85" stroke="#333" stroke-width="0.7"/>
<text class="tk" transform="translate(458.4,166.95) scale(0.88,1)">0.06</text>
<line x1="454.0" y1="150.47" x2="456.0" y2="150.47" stroke="#333" stroke-width="0.7"/>
<text class="tk" transform="translate(458.4,153.57) scale(0.88,1)">0.08</text>
<line x1="454.0" y1="137.10" x2="456.0" y2="137.10" stroke="#333" stroke-width="0.7"/>
<text class="tk" transform="translate(458.4,140.20) scale(0.88,1)">0.1</text>
<line x1="454.0" y1="123.72" x2="456.0" y2="123.72" stroke="#333" stroke-width="0.7"/>
<text class="tk" transform="translate(458.4,126.82) scale(0.88,1)">0.12</text>
<line x1="454.0" y1="110.35" x2="456.0" y2="110.35" stroke="#333" stroke-width="0.7"/>
<text class="tk" transform="translate(458.4,113.45) scale(0.88,1)">0.14</text>
<line x1="454.0" y1="96.97" x2="456.0" y2="96.97" stroke="#333" stroke-width="0.7"/>
<text class="tk" transform="translate(458.4,100.07) scale(0.88,1)">0.16</text>
<line x1="454.0" y1="83.60" x2="456.0" y2="83.60" stroke="#333" stroke-width="0.7"/>
<text class="tk" transform="translate(458.4,86.70) scale(0.88,1)">0.18</text>
<line x1="454.0" y1="70.22" x2="456.0" y2="70.22" stroke="#333" stroke-width="0.7"/>
<text class="tk" transform="translate(458.4,73.32) scale(0.88,1)">0.2</text>
<line x1="454.0" y1="56.85" x2="456.0" y2="56.85" stroke="#333" stroke-width="0.7"/>
<text class="tk" transform="translate(458.4,59.95) scale(0.88,1)">0.22</text>
<line x1="454.0" y1="43.47" x2="456.0" y2="43.47" stroke="#333" stroke-width="0.7"/>
<text class="tk" transform="translate(458.4,46.57) scale(0.88,1)">0.24</text>
<line x1="454.0" y1="30.10" x2="456.0" y2="30.10" stroke="#333" stroke-width="0.7"/>
<text class="tk" transform="translate(458.4,33.20) scale(0.88,1)">0.26</text>
<text class="ct" transform="translate(488.2,110.3) rotate(-90)" text-anchor="middle">Concentration CO (ppmv)</text>
<g clip-path="url(#clc)"><g filter="url(#bl)">
<circle cx="85.4" cy="300.5" r="72.1" fill="#5e4fa2"/>
<circle cx="85.4" cy="300.5" r="69.1" fill="#5e4fa2"/>
<path fill="#3682ba" fill-rule="evenodd" d="M4,219 166,219 166,381 4,381Z"/>
<path fill="#5cb7aa" fill-rule="evenodd" d="M4,219 166,219 166,381 4,381ZM72.6,270.1 69.7,270.8 68.4,271.5 62.4,277.7 61.7,278.8 61.2,281.8 61.9,284.7 62.9,286.1 68.2,291.5 71.1,293.4 79.9,294.2 82.8,295.2 84.3,296.9 85.7,302.2 86.7,303.6 88.5,305.1 91.6,305.6 93.4,305.1 95.3,303.6 96.3,302.2 97.9,296.4 101.3,292 101.5,290.5 100.8,289.1 98.2,286.1 97.4,284.7 96.5,280.3 95.8,278.8 90.1,272.8 87.2,270.7 84.3,270.1Z"/>
<path fill="#97d5a4" fill-rule="evenodd" d="M4,219 166,219 166,381 4,381ZM68.2,261.2 62.9,265.7 56,273 55.1,275.9 55.1,283.2 56,286.1 57,287.6 62.7,293.4 75.5,304.6 77,305.4 81.4,306.5 87.2,310.5 90.1,311 93,310.3 95.9,309.2 100.3,306.7 106.2,305.2 107.6,304.1 108.6,302.2 108.9,300.7 109.1,290.5 108.7,286.1 107.3,283.2 104.1,280.3 100.4,275.9 92.5,268.6 90.1,266.8 85.2,264.2 81.4,260.7 78.4,260 74.1,260 71.1,260.2Z"/>
<path fill="#d1ed9c" fill-rule="evenodd" d="M4,219 166,219 166,381 4,381ZM68.2,256.7 65.3,257.6 63.8,258.5 57.1,264.2 53.6,268.2 51.5,271.5 49.4,278.8 49,283.2 49.5,290.5 50.1,292 51.5,293.4 56.5,297 63.8,300.4 68.4,305.1 72.6,308.4 75.5,309.8 79.9,310.4 82.8,311.4 87.2,314.8 88.6,315.3 91.6,315.1 100.3,312.5 110.5,311.6 112.1,310.9 116.4,307.2 117.8,306.5 122.2,305.5 123.7,304.7 124.5,303.6 124.6,302.2 121.8,297.8 121.2,296.4 120.4,286.1 118.5,283.2 109.5,274.5 107.6,273 100.3,269.8 94.5,264.8 87.6,261.3 82.8,257.4 81.4,256.8 78.4,256.3Z"/>
<path fill="#f4faad" fill-rule="evenodd" d="M4,219 166,219 166,381 4,381ZM65.3,252.4 62.4,253.9 58,257.2 52.2,259 49.9,261.3 47.1,273 43.9,278.8 43.1,281.8 43.1,293.4 43.4,294.9 44.2,296.4 46.3,297.9 58,302.3 59.8,303.6 61.9,308 63.8,309.5 69.7,310.7 75.5,313 81.4,314.2 82.8,315 87.2,318.7 93.5,322.6 95.9,323.6 103.2,323.8 106.2,322.8 116.4,313.9 119.3,312.4 123.7,311.3 128.1,307.8 129.8,305.1 130,303.6 129.6,302.2 126.6,298.1 125.8,296.4 125.2,287.6 124.3,284.7 119.1,278.8 112,271.9 103.2,266.8 94.5,259.1 88.6,257.4 81.4,252.6 77,252 68.2,252Z"/>
<path fill="#fff1a8" fill-rule="evenodd" d="M4,219 166,219 166,381 4,381ZM63.8,248.1 58,251.2 53.6,252.3 50.7,253.7 45.7,258.4 43.7,261.3 43.1,264.2 42.7,271.5 41.2,274.5 37.9,278.8 37.1,281.8 37.1,293.4 38,296.4 39,297.4 49.5,303.6 56.8,309.5 60.9,311.9 63.8,313.2 71.1,314.3 79.9,317.3 82.8,319 91.6,327 94.5,328.2 100.3,329.7 103.2,329.9 106.2,329.1 112.5,324.1 117.8,319.1 123.7,317.3 126.6,315.3 129.5,312.5 132.4,308.5 132.9,305.1 132.3,302.2 129.2,296.4 128.3,290.5 126.7,284.7 125.1,281.8 123.9,280.3 114.9,271 107.8,265.7 97.1,255.5 94.5,254.1 88.6,252 82.8,248.3 77,247.7 66.8,247.7Z"/>
<path fill="#fece7c" fill-rule="evenodd" d="M4,219 166,219 166,381 4,381ZM60.9,245 49.2,248.9 40.5,257.6 37.7,261.3 37.1,264.2 36.7,271.5 33,278.8 31.2,286.1 31.1,293.4 32,296.4 33.4,297.8 43.4,303.6 50.7,310.6 53.4,312.4 77,320.3 79.9,322.1 85.7,327.1 97.4,333.1 101.8,334.2 106.2,334 109.1,332.9 113.5,330.4 117.8,329.4 119.3,328.7 122.2,325.5 126.6,322 134.1,313.9 135.4,312.2 136.4,309.5 136.1,306.6 130.4,289.1 123.7,276.1 104.7,256.8 100.9,254 94.5,250.7 84.3,245.7 81.4,244.6 66.8,244.3Z"/>
<path fill="#fa9b58" fill-rule="evenodd" d="M4,219 166,219 166,381 107,381 107,372.2 106.2,367.9 101.8,361.6 95.9,355.9 93,354.4 82.8,353.8 79.9,352.4 75.5,348.9 72.6,348.2 65.3,348.3 62.4,349.6 59.5,352.2 58,352.6 56.5,352.2 52.2,348.9 49.2,348 48.9,347.4 48.7,340.1 47.2,337.2 41.9,332.9 40.5,332.1 39,332.1 37.6,333.8 37.1,337.2 37.2,343.1 38.2,346 40.5,347.6 47.8,348.3 48.6,348.9 47.7,351.8 46.6,353.3 32.2,367.9 31.2,370.8 31,381 4,381ZM58,240.4 53.6,242.7 52.2,243 50.7,243 46.3,241.4 44.9,241.8 43.5,243.8 42.3,248.2 41.4,249.6 31.9,259.9 31.1,262.8 31,270.1 30.3,274.5 28.8,279.6 26,284.7 25,287.6 25,293.4 25.7,296.4 27,297.8 36.6,303.6 47.8,313.6 50.3,315.3 65.3,320.5 71.1,323.6 75.5,324.7 82.8,330.1 90.1,332.7 98.9,336.9 101.8,337.8 106.2,338.3 110.5,340.3 112,340.3 117.8,336.5 122.2,335.7 124.9,334.3 132,327 133.9,321.2 138.8,315.3 139.9,312.4 140.3,309.5 139.8,305.1 133.3,286.1 129.5,280.7 123.7,270.1 116.8,262.8 106.2,252.5 103.4,251.1 98.9,249.7 94.5,247.8 81.4,240.5 77,239.9 60.9,239.9Z"/>
<path fill="#ee6445" fill-rule="evenodd" d="M85,219 166,219 166,381 111,381 110.8,369.3 109.1,359.1 109.1,353.3 109.9,350.4 111.1,348.9 117.8,343.2 119.3,342.5 123.7,341.7 126.6,340 132.4,334.3 139.7,325.7 143.4,322.6 144.4,321.2 144.9,318.2 144.8,305.1 143.7,302.2 141.3,297.8 136.3,283.2 129.5,274.7 125.1,266.4 122.7,262.8 107.6,247.9 104.7,246.4 98.9,245.3 94.1,243.8 91.5,242.4 86.8,238 85.8,236.5 85.1,233.6ZM4,282 4,264 18.6,264 21.5,264.5 23,265.2 24.4,267.4 24.9,273 24.6,277.4 23,280.1 21.5,281.2 18.6,281.9ZM4,299.8 4,294.2 14.2,294.4 15.9,294.9 17.1,296.2 17.2,297.8 15.7,299.2 14.2,299.6ZM26.6,303.6 27.4,303.4 28.8,303.5 30.3,305.1 30.4,308 28.8,310.1 27.4,310.2 26.4,309.5 25.6,308 25.5,305.1ZM37.8,315.3 39,314.1 40.5,314.1 46.3,318.3 52.2,320.4 58,323.6 63.8,325 69.7,329.5 75.5,330.9 81.4,335.3 88.6,336.7 94.5,338.6 96.1,340.1 96.7,341.6 96.5,344.5 95.9,345.7 94.5,347 91.6,347.8 85.7,347.8 83.3,347.4 81.4,346.4 77,342.8 69.7,341.2 68.2,340.3 65.3,337.3 63.8,336.5 58,335.4 56.5,334.6 53.6,331.5 52.2,330.6 47.8,329.7 45.3,328.5 39,323 37.7,321.2 37.3,319.7 37.3,316.8Z"/>
<path fill="#d0384e" fill-rule="evenodd" d="M97,219 133,219 133,227.8 132.5,230.7 131.8,232.1 128.1,236.1 127.3,238 127,243.8 127.4,248.2 128.1,249.9 131.8,254 132.5,255.5 133.2,259.9 133.9,261.7 144.1,272.5 145.4,278.8 147,281.1 151.4,284.7 154.3,285.7 166,286 166,318 155.8,317.8 153,316.8 151.9,315.3 151.2,312.4 151.1,306.6 150.5,303.6 145.6,296.4 144.4,290.5 141.3,284.7 139.9,280.3 138.1,277.4 131,269.8 129.5,267.3 128,262.8 126.5,259.9 107.6,241.2 104.7,240.1 100.3,239.4 98.3,238 97.5,236.5 97,233.6ZM141.7,331.4 144.1,330.3 147,330.4 149.3,331.4 152.2,334.3 154.3,335.5 157.2,336 166,336 166,354 155.8,353.8 153.8,353.3 151.8,351.8 141.2,341.2 139.7,339.2 139.2,337.2 139.5,334.3 140.3,332.8Z"/>
<path fill="#9e0142" fill-rule="evenodd" d="M153.7,290.5 157.2,290 166,290 166,300 157.2,299.9 154.3,299.1 152.8,297.8 151.4,294.9 151.8,292Z"/>
<ellipse cx="85.4" cy="300.5" rx="13.0" ry="13.3" fill="#fff"/>
<g transform="translate(85.4,300.5) scale(0.9797,1.0014)"><use href="#grat"/><use href="#coast"/>
<g fill="none" stroke="#222" stroke-width="0.7" stroke-linejoin="round"><circle r="1.7" fill="#fff"/><path d="M0,1.7 L-0.3,8.4 L2.7,12.3"/><path d="M-5.8,11.6 L-4.6,7 L-1.6,8.8"/></g>
</g>
<path d="M42.3,268.4 43.2,266.3 44.3,264.3 45.5,262.6 46.8,261.0 48.2,259.4 49.8,257.9 51.5,256.4 53.4,255.0 55.4,253.7 57.5,252.5 59.7,251.4 61.8,250.4 64.0,249.6 66.2,249.0 68.5,248.5 70.7,248.1 73.0,247.7 75.3,247.4 77.6,247.1 79.9,246.8 82.1,246.5 84.4,246.4 86.6,246.3 88.8,246.5 90.9,246.8 92.9,247.3 94.8,247.9 96.7,248.7 98.7,249.5 100.8,250.4 103.0,251.4 105.4,252.6 107.7,253.8 110.1,255.2 112.3,256.5 114.3,257.9 116.1,259.3 117.7,260.7 119.3,262.2 120.7,263.7 122.0,265.3 123.3,266.9 124.5,268.5 125.6,270.2 126.6,272.0 127.5,273.7 128.4,275.5 129.3,277.4 130.2,279.3 131.0,281.3 131.7,283.4 132.5,285.5 133.2,287.5 133.8,289.4 134.4,291.2 135.0,293.0 135.5,294.6 136.0,296.3 136.4,298.1 136.8,299.9 137.2,301.8 137.7,303.8 138.1,305.8 138.4,307.8 138.5,309.9 138.3,311.9 137.8,314.0 137.0,316.1 136.1,318.2 134.9,320.2 133.6,322.2 132.3,323.9 130.8,325.4 129.2,326.8 127.4,328.1 125.6,329.3 123.7,330.4 121.8,331.4 119.9,332.4 117.9,333.3 115.9,334.2 113.9,335.0 111.8,335.5 109.8,335.9 107.8,336.0 105.8,336.0 103.8,335.8 101.8,335.5 99.8,335.0 97.8,334.4 95.8,333.6 93.7,332.6 91.7,331.5 89.7,330.3 87.7,329.3 85.8,328.4 84.0,327.7 82.2,327.2 80.5,326.7 78.7,326.3 77.0,325.9 75.3,325.4 73.5,324.9 71.7,324.5 70.0,324.1 68.2,323.6 66.5,323.1 64.8,322.4 63.2,321.6 61.6,320.7 60.1,319.7 58.6,318.6 57.2,317.5 55.8,316.4 54.4,315.3 53.1,314.1 51.9,312.9 50.6,311.7 49.4,310.3 48.3,308.9 47.2,307.4 46.1,305.7 45.0,304.0 44.0,302.2 43.1,300.4 42.3,298.4 41.6,296.4 40.9,294.2 40.2,292.0 39.7,289.7 39.4,287.4 39.3,284.9 39.4,282.3 39.7,279.4 40.1,276.5 40.7,273.6 41.5,270.8Z" fill="none" stroke="#1a1a1a" stroke-width="0.75" stroke-dasharray="3.6 1.4 0.9 1.4"/>
<path d="M49.8,272.3 50.4,271.6 51.3,270.6 52.4,269.4 53.5,268.2 54.7,267.0 55.8,265.9 56.9,265.0 58.0,264.1 59.2,263.2 60.4,262.4 61.6,261.6 62.8,260.9 64.1,260.3 65.3,259.7 66.6,259.1 67.9,258.6 69.3,258.2 70.8,257.9 72.4,257.6 74.0,257.4 75.7,257.3 77.5,257.3 79.2,257.3 80.8,257.5 82.3,257.8 83.8,258.3 85.3,258.9 86.8,259.5 88.3,260.2 89.8,260.9 91.4,261.7 93.1,262.5 94.8,263.4 96.5,264.2 98.2,265.1 99.8,265.9 101.4,266.6 102.9,267.2 104.4,267.8 105.9,268.5 107.4,269.1 108.8,269.9 110.2,270.8 111.7,271.7 113.1,272.6 114.4,273.7 115.7,274.8 116.8,275.9 117.8,277.1 118.8,278.4 119.6,279.7 120.4,281.1 121.1,282.5 121.8,283.9 122.4,285.4 123.0,286.9 123.6,288.5 124.0,290.0 124.4,291.5 124.8,292.9 125.1,294.2 125.4,295.3 125.6,296.5 125.8,297.6 125.8,298.7 125.8,299.9 125.7,301.2 125.4,302.6 125.1,303.9 124.7,305.3 124.3,306.6 123.8,307.9 123.2,309.1 122.5,310.4 121.7,311.6 120.9,312.7 120.3,313.6 119.8,314.3" fill="none" stroke="#0d0d0d" stroke-width="1.7" stroke-dasharray="4.6 2" stroke-linejoin="round" stroke-linecap="butt"/>
<path d="M55.8,269.3 60.2,265.9" fill="none" stroke="#0d0d0d" stroke-width="1.7" stroke-dasharray="4.6 2" stroke-linejoin="round" stroke-linecap="butt"/>
<path d="M56.8,275.3 63.8,270.9" fill="none" stroke="#0d0d0d" stroke-width="1.7" stroke-dasharray="4.6 2" stroke-linejoin="round" stroke-linecap="butt"/>
<path d="M65.8,276.3 68.8,269.9" fill="none" stroke="#0d0d0d" stroke-width="1.7" stroke-dasharray="4.6 2" stroke-linejoin="round" stroke-linecap="butt"/>
<path d="M72.8,278.3 76.2,273.5" fill="none" stroke="#0d0d0d" stroke-width="1.7" stroke-dasharray="4.6 2" stroke-linejoin="round" stroke-linecap="butt"/>
<path d="M78.8,268.9 83.8,264.9 88.2,267.9" fill="none" stroke="#0d0d0d" stroke-width="1.7" stroke-dasharray="4.6 2" stroke-linejoin="round" stroke-linecap="butt"/>
<path d="M93.8,273.9 101.8,275.9 107.8,279.9" fill="none" stroke="#0d0d0d" stroke-width="1.7" stroke-dasharray="4.6 2" stroke-linejoin="round" stroke-linecap="butt"/>
<path d="M114.8,292.9 117.8,300.9 122.2,298.5" fill="none" stroke="#0d0d0d" stroke-width="1.7" stroke-dasharray="4.6 2" stroke-linejoin="round" stroke-linecap="butt"/>
<path d="M114.8,307.9 117.8,315.9 122.2,309.5" fill="none" stroke="#0d0d0d" stroke-width="1.7" stroke-dasharray="4.6 2" stroke-linejoin="round" stroke-linecap="butt"/>
<path d="M59.8,282.9 65.8,286.9 63.8,292.9 68.8,296.9" fill="none" stroke="#0d0d0d" stroke-width="1.7" stroke-dasharray="4.6 2" stroke-linejoin="round" stroke-linecap="butt"/>
<path d="M95.8,282.9 101.8,286.9 105.8,284.9" fill="none" stroke="#0d0d0d" stroke-width="1.7" stroke-dasharray="4.6 2" stroke-linejoin="round" stroke-linecap="butt"/>
</g></g>
<ellipse cx="85.4" cy="300.5" rx="67.6" ry="69.1" fill="none" stroke="#3a3a3a" stroke-width="0.75"/>
<rect x="190.0" y="368.14" width="11" height="13.66" fill="#5e4fa2"/>
<rect x="190.0" y="354.78" width="11" height="13.66" fill="#3682ba"/>
<rect x="190.0" y="341.43" width="11" height="13.66" fill="#5cb7aa"/>
<rect x="190.0" y="328.07" width="11" height="13.66" fill="#97d5a4"/>
<rect x="190.0" y="314.71" width="11" height="13.66" fill="#d1ed9c"/>
<rect x="190.0" y="301.35" width="11" height="13.66" fill="#f4faad"/>
<rect x="190.0" y="287.99" width="11" height="13.66" fill="#fff1a8"/>
<rect x="190.0" y="274.63" width="11" height="13.66" fill="#fece7c"/>
<rect x="190.0" y="261.27" width="11" height="13.66" fill="#fa9b58"/>
<rect x="190.0" y="247.92" width="11" height="13.66" fill="#ee6445"/>
<rect x="190.0" y="234.56" width="11" height="13.66" fill="#d0384e"/>
<rect x="190.0" y="221.20" width="11" height="13.66" fill="#9e0142"/>
<rect x="190.0" y="221.2" width="11" height="160.30" fill="none" stroke="#4a4a4a" stroke-width="0.9"/>
<line x1="199.0" y1="381.50" x2="201.0" y2="381.50" stroke="#333" stroke-width="0.7"/>
<text class="tk" transform="translate(203.4,384.60) scale(0.88,1)">3</text>
<line x1="199.0" y1="368.14" x2="201.0" y2="368.14" stroke="#333" stroke-width="0.7"/>
<text class="tk" transform="translate(203.4,371.24) scale(0.88,1)">3.5</text>
<line x1="199.0" y1="354.78" x2="201.0" y2="354.78" stroke="#333" stroke-width="0.7"/>
<text class="tk" transform="translate(203.4,357.88) scale(0.88,1)">4</text>
<line x1="199.0" y1="341.43" x2="201.0" y2="341.43" stroke="#333" stroke-width="0.7"/>
<text class="tk" transform="translate(203.4,344.53) scale(0.88,1)">4.5</text>
<line x1="199.0" y1="328.07" x2="201.0" y2="328.07" stroke="#333" stroke-width="0.7"/>
<text class="tk" transform="translate(203.4,331.17) scale(0.88,1)">5</text>
<line x1="199.0" y1="314.71" x2="201.0" y2="314.71" stroke="#333" stroke-width="0.7"/>
<text class="tk" transform="translate(203.4,317.81) scale(0.88,1)">5.5</text>
<line x1="199.0" y1="301.35" x2="201.0" y2="301.35" stroke="#333" stroke-width="0.7"/>
<text class="tk" transform="translate(203.4,304.45) scale(0.88,1)">6</text>
<line x1="199.0" y1="287.99" x2="201.0" y2="287.99" stroke="#333" stroke-width="0.7"/>
<text class="tk" transform="translate(203.4,291.09) scale(0.88,1)">6.5</text>
<line x1="199.0" y1="274.63" x2="201.0" y2="274.63" stroke="#333" stroke-width="0.7"/>
<text class="tk" transform="translate(203.4,277.73) scale(0.88,1)">7</text>
<line x1="199.0" y1="261.27" x2="201.0" y2="261.27" stroke="#333" stroke-width="0.7"/>
<text class="tk" transform="translate(203.4,264.38) scale(0.88,1)">7.5</text>
<line x1="199.0" y1="247.92" x2="201.0" y2="247.92" stroke="#333" stroke-width="0.7"/>
<text class="tk" transform="translate(203.4,251.02) scale(0.88,1)">8</text>
<line x1="199.0" y1="234.56" x2="201.0" y2="234.56" stroke="#333" stroke-width="0.7"/>
<text class="tk" transform="translate(203.4,237.66) scale(0.88,1)">8.5</text>
<line x1="199.0" y1="221.20" x2="201.0" y2="221.20" stroke="#333" stroke-width="0.7"/>
<text class="tk" transform="translate(203.4,224.30) scale(0.88,1)">9</text>
<text class="ct" transform="translate(227.2,301.4) rotate(-90)" text-anchor="middle">Concentration O<tspan dy="3.6" font-size="7.4">3</tspan><tspan dy="-3.6"> (ppmv)</tspan></text>
<g clip-path="url(#cld)"><g filter="url(#bl)">
<circle cx="339.6" cy="300.6" r="72.1" fill="#5e4fa2"/>
<circle cx="339.6" cy="300.6" r="69.1" fill="#5e4fa2"/>
<path fill="#3484bb" fill-rule="evenodd" d="M259,219 421,219 421,306.2 410.8,306.3 409.3,306.8 407.9,308 407.7,309.5 408.8,310.9 410.8,311.6 421,311.8 421,381 400,381 400,372.2 399.1,368.4 393.2,362 386,355.1 384.5,354.4 381.6,354 365.5,354.1 361.2,353.7 358.2,351.9 349.5,343.1 345.1,339.5 343.6,338.6 337.8,336.5 332,333.3 330.5,333.3 328.9,334.3 328.2,335.8 328.1,337.2 329.2,340.1 332,343.3 332.5,344.5 332.4,346 327.3,351.8 321.1,357.6 320.3,358.3 318.8,358.6 317.4,358.1 313,354.5 307.2,353.2 305.8,351.8 305.7,350.4 307.2,348.7 310.1,348.1 317.4,347.8 318.8,347.4 320.8,346 321.8,343.1 322,340.1 321.8,335.8 321,334.3 318.8,333.2 317.4,333.7 316.3,335.8 315.6,338.7 314.5,340.5 313,341.5 311.5,341.9 308.6,341.9 305.7,340.6 304.5,338.7 303.5,332.8 301.7,327 299.9,323.8 296.8,319.7 287,310.9 283.8,309.2 282.4,309.2 280.9,310.2 280.5,310.9 280.1,313.9 280.1,318.2 280.7,321.2 284.2,325.5 284.6,327 284.2,328.5 283,329.9 278.7,334.3 276.5,335.6 273.6,336 259,336 259,276 275.1,275.7 278,274.1 279.4,271.8 279.7,270.1 279.4,267.2 278,265.2 276.5,264.5 273.6,264 259,264ZM374.3,246.4 372.8,247.1 372,248.2 372.2,249.6 372.8,250.7 377.2,255.2 378.7,256 380.1,255.9 381.5,254 381.8,252.6 381.5,249.6 380.8,248.2 378.7,246.6 377.2,246.2ZM386,336.7 383.4,338.7 382.4,341.6 382.7,344.5 384.5,346.4 386,346.3 387.4,345.4 391.8,341 393.2,338.7 393.3,337.2 391.8,336.4 388.9,336.3ZM396.2,278.1 395.7,278.8 395.5,280.3 395.8,281.8 396.2,283.2 397.6,285 399.1,284.2 399.6,281.8 399.5,280.3 398.9,278.8 397.6,277.9ZM337.5,354.7 340.7,354.2 348,354.5 350.2,356.2 350.2,357.6 348.9,359.1 346.6,359.7 340.7,359.8 337.8,359.4 335.8,357.6 335.8,356.2Z"/>
<path fill="#5cb7aa" fill-rule="evenodd" d="M292,219 346.2,219 346.1,233.6 345,240.9 345.3,242.4 346.2,243.8 348,244.9 349.5,245.2 350.9,245 352.4,244.1 353.5,242.4 353.4,239.4 352,233.6 352,219 357.8,219 357.8,239.4 358.3,242.4 358.9,243.8 364.1,248.5 369,254 375.8,260.7 381.5,265.7 387.4,271.9 388.7,274.5 392,284.7 394.8,296.4 399.1,301.5 400.4,303.6 401.6,309.5 401.5,316.8 400.7,319.7 399,322.6 390.4,330 383.1,332.8 380.9,334.3 374.3,341.5 368.5,346.9 365.5,347.8 362.6,347.7 361.2,347.2 358.2,345.1 351,338.7 336.2,331.4 332,330.4 326.1,331.1 323.2,331 317.4,329.6 313,327.3 311.5,327.1 308.6,327.9 307.2,327.4 305.7,325.1 301.3,315.2 299.9,314.1 295.5,311.9 289.9,308 282.4,303.9 281.1,302.2 281.3,296.4 279.9,287.6 280.3,280.3 281.9,277.4 285.2,273 285.7,271.5 286.1,262.8 286.9,259.9 296.4,249.6 297.7,246.7 298,242.4 297.7,238 296.1,235.1 293.2,232.1 292.2,229.2Z"/>
<path fill="#97d5a4" fill-rule="evenodd" d="M318,240.9 321.8,239.9 333.4,239.9 336.4,240.2 339.3,241.5 342.3,243.8 350.7,248.2 355.3,251.2 361.2,252.9 365.5,256.5 381.6,272.6 385.4,277.4 388.9,287.6 390.2,296.4 391,297.8 394.8,302.2 397.7,308 398.2,312.4 397.8,315.3 396.4,318.2 395.2,319.7 388.9,325.9 386,327.9 376.8,332.8 369.9,339 367,341.2 364.1,341.8 361.2,341.2 355.3,337.9 348,335.4 342.2,331.6 339.3,330.5 330.5,328.6 321.8,328.2 318.8,327.4 314.5,323.7 310.2,321.2 308.7,319.7 304.6,313.9 302.8,312 299.9,310 290.4,305.1 288.2,303.6 286.9,302.2 286.3,300.7 284.6,292 284.5,284.7 285.6,280.3 288.6,275.9 290.1,273 292.7,261.3 294.7,258.4 305.7,247 313,244.9Z"/>
<path fill="#d4ee9c" fill-rule="evenodd" d="M320.3,246.4 333.4,244.4 337.8,245.1 345.1,248.8 352.4,254.8 361,258.4 365.5,262.5 381.5,278.8 383,281.8 385.8,290.5 386.8,296.4 388.4,299.3 392,303.6 393.4,308 393.9,310.9 393.6,313.9 393,315.3 389.3,321.2 386,324.7 381.6,327.1 374.3,329.6 368.5,334.2 365.5,335.7 362.6,335.9 356.8,334.7 350.9,334.1 348,333 343.6,330.5 337.3,328.5 332,326.2 318.8,323.1 315.9,320.9 310.1,315.4 305.7,312.5 301.1,308 293.8,303.6 292.1,302.2 291.1,300.3 288.3,292 287.8,289.1 287.9,286.1 289.2,281.8 294.9,270.1 298.2,261.3 302,256.9 307.2,252.3 314.5,249.5Z"/>
<path fill="#fbeea5" fill-rule="evenodd" d="M330.4,248.2 334.9,247.8 337.3,248.2 339.3,249 347.3,255.5 357.9,261.3 362.8,265.7 369,270.1 375.8,276.8 380.1,281.8 381.6,284.5 382.6,287.6 384.3,297.8 386.7,302.2 387.8,305.1 388,310.9 387.5,315.3 386,319.7 384.5,321.5 378.7,324.1 371.4,326.6 365.5,329.7 352.4,330 348,329.4 342.2,327.4 336.4,323.6 320.1,318.2 314.5,314.4 307.2,310.2 302.8,305.9 297.5,302.2 295.5,300 294,297.2 292.6,292 292.1,289.1 292.2,286.1 294,278.8 295.5,275.9 298.5,271.5 299.9,267.2 301.3,264.1 308.1,256.9 312.1,254 318.8,250.8 324.7,250Z"/>
<path fill="#fed07d" fill-rule="evenodd" d="M328.9,251.1 333.4,250.4 336.4,250.8 337.8,251.4 343.6,256.5 351.9,261.3 358.8,267.2 367,270.4 368.5,271.3 375.7,278.8 379.4,284.7 380,286.1 380.8,292 383.6,305.1 383.5,309.5 382.5,313.9 380.8,316.8 377.4,319.7 372.8,322.1 367,323.6 355.3,325.3 350.9,324.7 347,322.6 339.3,315.2 337.8,314.2 336.2,313.9 334.9,314.4 332,316.7 329.1,316.9 323.2,315.5 314,310.9 308.6,307.5 301.8,300.7 299.4,297.8 298.6,296.4 298.1,293.4 298.1,281.8 298.9,278.8 301.5,274.5 304.3,267.2 309.4,259.9 313,256.6 320.3,253.2Z"/>
<path fill="#fa9e5a" fill-rule="evenodd" d="M325.1,254 332,253.7 336.4,254.2 346,261.3 352.8,267.2 355.8,268.6 364.1,270.7 367,272.1 373.9,278.8 375.8,281.8 377.1,284.7 378.3,292 380.1,297.8 380.3,300.7 380.3,306.6 379.8,309.5 378.3,312.4 374.3,316.3 371.4,317.7 361.2,318.4 356.8,320.6 355.3,321 353.9,320.8 350.9,319 343.6,311.9 339.3,308.7 336.4,307.9 333.4,307.9 330.5,308.6 325.9,310.9 323.2,311.1 320.3,310.4 317.4,309.4 315.3,308 306.4,299.3 304.6,296.4 304,290.5 304.3,280.3 306.3,273 309.9,267.2 311.5,262.8 313.4,259.9 318.8,256.5Z"/>
<path fill="#f06744" fill-rule="evenodd" d="M324.6,256.9 327.6,256.4 333.4,256.3 336.4,256.8 337.8,257.4 349.5,268.2 352.4,269.3 359.7,270.1 362.6,270.9 365.5,273 370.3,277.4 374.3,282 375.5,284.7 376.3,292 377.5,297.8 377.6,302.2 377.2,305.1 376.2,308 374.3,310.5 371.4,312.5 367,313.4 362.6,312.6 359.7,310.9 358.2,308 357.6,297.8 355.3,290.2 352,286.1 345.1,281.8 343.6,281.3 342.4,283.2 342.1,284.7 341.7,302.2 341,303.6 339.4,305.1 336.4,305.9 323.2,307.2 320.8,306.6 318.8,305.5 313.8,300.7 311.4,297.8 310.2,294.9 310.2,286.1 311.4,283.2 318.8,275.2 319.9,273 319.5,271.5 316.5,267.2 316.2,264.2 316.4,262.8 317.2,261.3 318.9,259.9Z"/>
<path fill="#d1394e" fill-rule="evenodd" d="M329.6,258.4 334.9,258.1 337.8,259.1 339.3,260.4 345.1,269.1 346.6,270.7 348,271.4 350.9,271.9 358.2,271.9 361.2,272.6 366.4,277.4 369.9,282.1 372.7,284.7 373.5,286.1 374,289.1 373.9,300.7 372.8,304.6 369.9,307.8 368.5,308.6 367,308.8 365.3,308 364.5,306.6 364,299.3 363.4,296.4 361.2,292.8 359.1,287.6 357.4,284.7 353.9,281.6 349.5,279.4 345.1,275.3 343.6,274.9 342.2,275 340.3,275.9 339,277.4 338.4,278.8 338,283.2 338,299.3 337.2,302.2 336.4,303.1 333.4,303.9 325.5,303.6 322.4,302.2 317.2,297.8 315.9,296.1 314.9,293.4 314.7,290.5 315.2,287.6 316.8,284.7 321.8,280 325.6,275.9 326.5,274.5 326.6,273 326,271.5 322.9,267.2 322.4,265.7 322.4,262.8 323.3,261.3 325.2,259.9Z"/>
<path fill="#9e0142" fill-rule="evenodd" d="M329.7,261.3 332,260.3 333.4,260.1 334.9,260.3 337,261.3 338.1,262.8 338.9,265.7 338.8,267.2 338,268.6 336.4,269.5 334.9,269.8 332,269.4 330.5,268.5 329.1,266.8 328.4,264.2 328.6,262.8Z"/>
<ellipse cx="339.6" cy="300.6" rx="13.0" ry="13.3" fill="#fff"/>
<g transform="translate(339.6,300.6) scale(0.9797,1.0014)"><use href="#grat"/><use href="#coast"/>
<g fill="none" stroke="#222" stroke-width="0.7" stroke-linejoin="round"><circle r="1.7" fill="#fff"/><path d="M0,1.7 L-0.3,8.4 L2.7,12.3"/><path d="M-5.8,11.6 L-4.6,7 L-1.6,8.8"/></g>
</g>
<path d="M296.5,268.5 297.4,266.4 298.5,264.4 299.7,262.7 301.0,261.1 302.4,259.5 304.0,258.0 305.7,256.5 307.6,255.1 309.6,253.8 311.7,252.6 313.9,251.5 316.0,250.5 318.2,249.7 320.4,249.1 322.7,248.6 324.9,248.2 327.2,247.8 329.5,247.5 331.8,247.2 334.1,246.9 336.3,246.6 338.6,246.5 340.8,246.4 343.0,246.6 345.1,246.9 347.1,247.4 349.0,248.0 350.9,248.8 352.9,249.6 355.0,250.5 357.2,251.5 359.6,252.7 361.9,253.9 364.3,255.3 366.5,256.6 368.5,258.0 370.3,259.4 371.9,260.8 373.5,262.3 374.9,263.8 376.2,265.4 377.5,267.0 378.7,268.6 379.8,270.3 380.8,272.1 381.7,273.8 382.6,275.6 383.5,277.5 384.4,279.4 385.2,281.4 385.9,283.5 386.7,285.6 387.4,287.6 388.0,289.5 388.6,291.3 389.2,293.1 389.7,294.8 390.2,296.4 390.6,298.2 391.0,300.0 391.4,301.9 391.9,303.9 392.3,305.9 392.6,307.9 392.7,310.0 392.5,312.0 392.0,314.1 391.2,316.2 390.2,318.3 389.1,320.3 387.8,322.3 386.5,324.0 385.0,325.5 383.4,326.9 381.6,328.2 379.8,329.4 377.9,330.5 376.0,331.5 374.1,332.5 372.1,333.4 370.1,334.3 368.1,335.1 366.0,335.6 364.0,336.0 362.0,336.1 360.0,336.1 358.0,335.9 356.0,335.6 354.0,335.1 352.0,334.5 350.0,333.7 347.9,332.7 345.9,331.6 343.9,330.4 341.9,329.4 340.0,328.5 338.2,327.8 336.4,327.3 334.7,326.8 332.9,326.4 331.2,326.0 329.5,325.5 327.7,325.0 325.9,324.6 324.2,324.2 322.4,323.7 320.7,323.2 319.0,322.5 317.4,321.7 315.8,320.8 314.3,319.8 312.8,318.7 311.4,317.6 310.0,316.5 308.6,315.4 307.3,314.2 306.1,313.0 304.8,311.8 303.6,310.4 302.5,309.0 301.4,307.5 300.3,305.8 299.2,304.1 298.2,302.3 297.3,300.5 296.5,298.5 295.8,296.5 295.1,294.3 294.4,292.1 293.9,289.8 293.6,287.5 293.5,285.0 293.6,282.4 293.9,279.5 294.3,276.6 294.9,273.7 295.7,270.9Z" fill="none" stroke="#1a1a1a" stroke-width="0.75" stroke-dasharray="3.6 1.4 0.9 1.4"/>
<path d="M304.0,272.4 304.6,271.7 305.5,270.7 306.6,269.5 307.7,268.3 308.9,267.1 310.0,266.0 311.1,265.1 312.2,264.2 313.4,263.3 314.6,262.5 315.8,261.7 317.0,261.0 318.3,260.4 319.5,259.8 320.8,259.2 322.1,258.7 323.5,258.3 325.0,258.0 326.6,257.7 328.2,257.5 329.9,257.4 331.7,257.4 333.4,257.4 335.0,257.6 336.5,257.9 338.0,258.4 339.5,259.0 341.0,259.6 342.5,260.3 344.0,261.0 345.6,261.8 347.3,262.6 349.0,263.5 350.7,264.3 352.4,265.2 354.0,266.0 355.6,266.7 357.1,267.3 358.6,267.9 360.1,268.6 361.6,269.2 363.0,270.0 364.4,270.9 365.9,271.8 367.2,272.8 368.6,273.8 369.9,274.9 371.0,276.0 372.0,277.2 373.0,278.5 373.8,279.8 374.6,281.2 375.3,282.6 376.0,284.0 376.6,285.5 377.2,287.0 377.8,288.6 378.2,290.1 378.6,291.6 379.0,293.0 379.3,294.3 379.6,295.4 379.8,296.6 380.0,297.7 380.0,298.8 380.0,300.0 379.9,301.3 379.6,302.7 379.3,304.0 378.9,305.4 378.5,306.7 378.0,308.0 377.4,309.2 376.7,310.5 375.9,311.7 375.1,312.8 374.5,313.7 374.0,314.4" fill="none" stroke="#0d0d0d" stroke-width="1.7" stroke-dasharray="4.6 2" stroke-linejoin="round" stroke-linecap="butt"/>
<path d="M310.0,269.4 314.4,266.0" fill="none" stroke="#0d0d0d" stroke-width="1.7" stroke-dasharray="4.6 2" stroke-linejoin="round" stroke-linecap="butt"/>
<path d="M311.0,275.4 318.0,271.0" fill="none" stroke="#0d0d0d" stroke-width="1.7" stroke-dasharray="4.6 2" stroke-linejoin="round" stroke-linecap="butt"/>
<path d="M320.0,276.4 323.0,270.0" fill="none" stroke="#0d0d0d" stroke-width="1.7" stroke-dasharray="4.6 2" stroke-linejoin="round" stroke-linecap="butt"/>
<path d="M327.0,278.4 330.4,273.6" fill="none" stroke="#0d0d0d" stroke-width="1.7" stroke-dasharray="4.6 2" stroke-linejoin="round" stroke-linecap="butt"/>
<path d="M333.0,269.0 338.0,265.0 342.4,268.0" fill="none" stroke="#0d0d0d" stroke-width="1.7" stroke-dasharray="4.6 2" stroke-linejoin="round" stroke-linecap="butt"/>
<path d="M348.0,274.0 356.0,276.0 362.0,280.0" fill="none" stroke="#0d0d0d" stroke-width="1.7" stroke-dasharray="4.6 2" stroke-linejoin="round" stroke-linecap="butt"/>
<path d="M369.0,293.0 372.0,301.0 376.4,298.6" fill="none" stroke="#0d0d0d" stroke-width="1.7" stroke-dasharray="4.6 2" stroke-linejoin="round" stroke-linecap="butt"/>
<path d="M369.0,308.0 372.0,316.0 376.4,309.6" fill="none" stroke="#0d0d0d" stroke-width="1.7" stroke-dasharray="4.6 2" stroke-linejoin="round" stroke-linecap="butt"/>
<path d="M314.0,283.0 320.0,287.0 318.0,293.0 323.0,297.0" fill="none" stroke="#0d0d0d" stroke-width="1.7" stroke-dasharray="4.6 2" stroke-linejoin="round" stroke-linecap="butt"/>
<path d="M350.0,283.0 356.0,287.0 360.0,285.0" fill="none" stroke="#0d0d0d" stroke-width="1.7" stroke-dasharray="4.6 2" stroke-linejoin="round" stroke-linecap="butt"/>
</g></g>
<ellipse cx="339.6" cy="300.6" rx="67.6" ry="69.1" fill="none" stroke="#3a3a3a" stroke-width="0.75"/>
<rect x="445.0" y="366.93" width="11" height="14.87" fill="#5e4fa2"/>
<rect x="445.0" y="352.35" width="11" height="14.87" fill="#3484bb"/>
<rect x="445.0" y="337.78" width="11" height="14.87" fill="#5cb7aa"/>
<rect x="445.0" y="323.21" width="11" height="14.87" fill="#97d5a4"/>
<rect x="445.0" y="308.64" width="11" height="14.87" fill="#d4ee9c"/>
<rect x="445.0" y="294.06" width="11" height="14.87" fill="#fbeea5"/>
<rect x="445.0" y="279.49" width="11" height="14.87" fill="#fed07d"/>
<rect x="445.0" y="264.92" width="11" height="14.87" fill="#fa9e5a"/>
<rect x="445.0" y="250.35" width="11" height="14.87" fill="#f06744"/>
<rect x="445.0" y="235.77" width="11" height="14.87" fill="#d1394e"/>
<rect x="445.0" y="221.20" width="11" height="14.87" fill="#9e0142"/>
<rect x="445.0" y="221.2" width="11" height="160.30" fill="none" stroke="#4a4a4a" stroke-width="0.9"/>
<line x1="454.0" y1="381.50" x2="456.0" y2="381.50" stroke="#333" stroke-width="0.7"/>
<text class="tk" transform="translate(458.4,384.60) scale(0.88,1)">0</text>
<line x1="454.0" y1="366.93" x2="456.0" y2="366.93" stroke="#333" stroke-width="0.7"/>
<text class="tk" transform="translate(458.4,370.03) scale(0.88,1)">0.02</text>
<line x1="454.0" y1="352.35" x2="456.0" y2="352.35" stroke="#333" stroke-width="0.7"/>
<text class="tk" transform="translate(458.4,355.45) scale(0.88,1)">0.04</text>
<line x1="454.0" y1="337.78" x2="456.0" y2="337.78" stroke="#333" stroke-width="0.7"/>
<text class="tk" transform="translate(458.4,340.88) scale(0.88,1)">0.06</text>
<line x1="454.0" y1="323.21" x2="456.0" y2="323.21" stroke="#333" stroke-width="0.7"/>
<text class="tk" transform="translate(458.4,326.31) scale(0.88,1)">0.08</text>
<line x1="454.0" y1="308.64" x2="456.0" y2="308.64" stroke="#333" stroke-width="0.7"/>
<text class="tk" transform="translate(458.4,311.74) scale(0.88,1)">0.1</text>
<line x1="454.0" y1="294.06" x2="456.0" y2="294.06" stroke="#333" stroke-width="0.7"/>
<text class="tk" transform="translate(458.4,297.16) scale(0.88,1)">0.12</text>
<line x1="454.0" y1="279.49" x2="456.0" y2="279.49" stroke="#333" stroke-width="0.7"/>
<text class="tk" transform="translate(458.4,282.59) scale(0.88,1)">0.14</text>
<line x1="454.0" y1="264.92" x2="456.0" y2="264.92" stroke="#333" stroke-width="0.7"/>
<text class="tk" transform="translate(458.4,268.02) scale(0.88,1)">0.16</text>
<line x1="454.0" y1="250.35" x2="456.0" y2="250.35" stroke="#333" stroke-width="0.7"/>
<text class="tk" transform="translate(458.4,253.45) scale(0.88,1)">0.18</text>
<line x1="454.0" y1="235.77" x2="456.0" y2="235.77" stroke="#333" stroke-width="0.7"/>
<text class="tk" transform="translate(458.4,238.87) scale(0.88,1)">0.2</text>
<line x1="454.0" y1="221.20" x2="456.0" y2="221.20" stroke="#333" stroke-width="0.7"/>
<text class="tk" transform="translate(458.4,224.30) scale(0.88,1)">0.22</text>
<text class="ct" transform="translate(487.9,301.4) rotate(-90)" text-anchor="middle">Concentration CO (ppmv)</text>
<g clip-path="url(#cle)"><g filter="url(#bl)">
<circle cx="86.5" cy="490.1" r="72.0" fill="#5e4fa2"/>
<circle cx="86.5" cy="490.1" r="69.0" fill="#5e4fa2"/>
<path fill="#3682ba" fill-rule="evenodd" d="M5,408 167,408 167,570 5,570ZM88.2,467.1 87.1,467.8 86.4,469.3 86,475.1 86.1,489.7 88,497 89.6,500.4 92,502.9 94,504.2 96.9,504.9 101.3,504.4 104.1,502.9 107.2,500.1 109.3,497 109.9,494.1 109.9,486.8 109.3,481 108.5,479.5 107.2,478.2 99.9,475.8 96.4,472.2 91.1,468 89.6,467.2Z"/>
<path fill="#5cb7aa" fill-rule="evenodd" d="M5,408 167,408 167,570 5,570ZM63.4,464.3 61.6,466.4 61.5,467.8 62,469.3 63.4,470.8 64.8,471.6 66.3,471.7 67.8,471.1 69.1,469.3 69.3,467.8 68.9,466.4 67.8,465 66.3,464.1 64.8,464ZM82.4,459.9 75.5,466.4 74.5,467.8 73.4,473.7 72.7,475.1 68.9,479.5 68.3,482.4 68.8,485.4 70.7,487.9 74.4,491.2 82.4,495.2 83.8,497 88.2,505 90.4,507.2 94,508.4 98.4,508.6 102.8,508.3 105.7,507.4 108.6,505.3 112.5,501.4 114.8,498.5 115.5,497 116,494.1 116,483.9 115.5,481 114.9,479.5 110.1,473.6 105.7,469.9 102.4,466.4 99.9,465.3 95.5,464.2 89.6,459.8 85.3,459.1Z"/>
<path fill="#97d5a4" fill-rule="evenodd" d="M5,408 167,408 167,570 5,570ZM75.1,450.3 70.7,452.7 64.8,453.6 60.5,454.8 57.7,456.2 56.6,457.6 56.1,460.5 56.3,466.4 57.7,469.3 61,473.7 61.6,475.1 62.2,483.9 63.4,486.8 65.8,489.7 70.7,494.4 73.6,495.9 79.4,497.8 82.4,499.4 83.8,500.6 85.3,502.9 88.1,510.2 89.6,512 91.1,512.7 95.5,513 104.2,512.9 107.2,512.1 110.1,509.9 117.1,502.9 120.6,498.5 121,497 120.4,491.2 120.3,482.4 119.2,478.1 115.4,472.2 113,466.4 109.3,462 107.2,460.1 99.9,458 95.5,454.4 94,453.6 88.2,452.2 85,450.3 82.4,449.3 78,449.3Z"/>
<path fill="#d1ed9c" fill-rule="evenodd" d="M5,408 167,408 167,570 5,570ZM75.1,445.7 64.8,447.9 60.5,450.5 53.4,453.2 50.8,456.2 50.1,459.1 50.3,466.4 51.7,469.3 54,472.2 55.6,475.1 56.1,482.4 56.6,485.4 59.8,489.7 67.8,497.4 70.7,498.9 80.9,502.4 83.8,504.3 85.3,507.2 87.5,514.5 88.2,515.6 89.6,516.7 92.6,517.3 102.8,517.3 105.7,517.2 108.6,516.4 111.5,514.4 123.1,502.9 125.6,499.9 126.2,498.5 126.2,497 123.9,491.2 123.6,482.4 123,479.5 118.8,470.5 116.5,463.5 114.4,460.5 108.6,454.9 105.7,453.4 101.3,452.3 94,447.5 82.4,445.4Z"/>
<path fill="#f4faad" fill-rule="evenodd" d="M5,408 167,408 167,570 5,570ZM66.3,441.4 63.4,442.9 57.6,447.4 53.2,448.9 50.2,450.3 47.3,453.2 45.9,456.2 44.4,462 44.3,466.4 45.7,469.3 48,472.2 49.6,475.1 50.2,483.9 51.4,486.8 55.2,491.2 64.8,500.5 67.8,502 72.1,503.4 78,506.5 82.4,508 84.1,510.2 86.9,517.5 88.2,519.2 89.6,520.1 92.6,520.6 105.7,520.6 110.1,520 112.5,518.9 115.9,516.1 129.1,502.9 131.6,499.9 132.2,498.5 132.1,497 128.5,491.2 128,488.3 127.7,481 127.4,479.5 124.7,475 123.6,472.2 121.2,462 117.6,457.6 108.6,448.9 105.7,447.4 101.3,446.3 94,441.5 91.1,441 80.9,440.9 69.2,441Z"/>
<path fill="#fff1a8" fill-rule="evenodd" d="M5,408 167,408 167,570 5,570ZM78,429.6 72.1,434 64.8,435.9 54.6,443.9 47.3,447.2 44.2,450.3 41.5,456.7 39,460.5 38.5,462 38.1,464.9 38.8,467.8 43,473.7 43.6,475.1 44.1,482.4 44.6,485.4 47.8,489.7 63.4,505.1 66.3,506.6 70.7,507.7 76.5,511.9 82.4,514 83.8,515.4 86.9,520.4 89.6,522.9 94,524.4 98.4,524.9 105.7,523.6 111.5,523.2 114.5,522.4 117.5,520.4 129.3,508.7 136.5,501.4 138.4,498.5 138.5,497 137.9,495.6 135.6,492.6 134.3,489.7 134,476.6 133.3,473.7 129.1,468.8 127.7,463.5 126.2,460.5 114.5,447.7 108.6,442.2 107.2,441.5 101.3,440.3 95.5,436.1 94,435.4 88.2,433.9 83.6,429.9 80.9,429.2Z"/>
<path fill="#fece7c" fill-rule="evenodd" d="M5,408 74,408 73.9,422.6 73.1,425.5 72.1,426.9 69.7,428.4 64,429.9 58.3,434.3 53.2,435.5 51.7,436.3 48,440.1 44.4,443 40,447.4 32.7,455.7 32,459.1 32.2,466.4 33.6,469.3 36,472.2 37.6,475.1 38.2,483.9 39.4,486.8 42.9,490.9 61.9,509.9 64.8,512.1 70.7,513.7 76.5,517.9 82.4,520 86.9,524.8 91.1,527.5 95.5,529.2 99.9,530 101.3,529.8 107.2,527.1 111.5,526.5 114.5,525.7 121.8,521.8 125.1,518.9 142.5,501.4 144.8,498.5 145.8,495.6 145.9,478.1 145.2,473.7 144.3,472.2 135.3,463.5 131.7,459.1 123.3,450.3 122.2,447.4 121.6,438.6 121,437.2 117.4,433.4 116.4,431.4 116.1,428.4 116.8,425.5 120.8,421.1 121.5,419.7 122,416.8 122,408 167,408 167,435 156.8,435.2 153.9,436.2 142.8,447.4 141.7,448.9 141.6,450.3 142.5,451.8 145.1,452.8 167,453 167,570 5,570ZM101.2,429.9 104.2,429.3 106.9,429.9 108.3,431.4 108.2,432.8 107.2,433.8 105.7,434.4 102.5,434.3 100.5,432.8 100.1,431.4Z"/>
<path fill="#fa9b58" fill-rule="evenodd" d="M22,472.2 24,471.4 25.4,471.2 28.4,471.8 29.8,472.8 31.4,475.1 32.1,485.4 33.7,488.3 63.4,517.8 64.8,518.5 70.7,519.9 76.5,524.3 82.4,525.7 89.6,531.4 99.9,534.7 102.8,534.5 107.2,531.9 113,530.6 118.1,527.7 124.7,525.3 127.4,523.3 145.1,505.7 150.9,499.3 152,495.6 152.4,481 153.9,478.4 156.8,477.2 167,477 167,570 68,570 68,549.6 67.6,546.6 67,545.2 48.4,526.2 45.1,523.3 42.6,520.4 39.2,517.5 36.7,514.5 33.4,511.6 26.9,504.6 26.1,501.4 25.7,486.8 24,483.9 21.1,481 20.2,478.1 20.3,475.1 20.8,473.7ZM5,513.1 19.6,513 22.5,513.4 24,514.1 48.8,538.6 53.6,543.7 54.4,545.2 54.5,546.6 53.7,548.1 45.9,556.1 44.5,558.3 44,561.2 44,570 5,570Z"/>
<path fill="#ee6445" fill-rule="evenodd" d="M99.5,537.9 102.8,538 104.5,539.4 104.7,540.8 104.3,542.3 102.8,543.6 101.3,544 99.9,543.9 97.8,542.3 97.3,540.8 97.6,539.4Z"/>
<ellipse cx="86.5" cy="490.1" rx="13.0" ry="13.3" fill="#fff"/>
<g transform="translate(86.5,490.1) scale(0.9812,1.0000)"><use href="#grat"/><use href="#coast"/>
<g fill="none" stroke="#222" stroke-width="0.7" stroke-linejoin="round"><circle r="1.7" fill="#fff"/><path d="M0,1.7 L-0.3,8.4 L2.7,12.3"/><path d="M-5.8,11.6 L-4.6,7 L-1.6,8.8"/></g>
</g>
<path d="M55.0,436.0 57.0,435.2 59.3,434.6 61.8,434.3 64.6,434.0 67.3,433.8 70.0,433.6 72.7,433.3 75.5,433.1 78.3,432.9 81.2,432.8 83.9,432.8 86.5,433.0 88.9,433.3 91.2,433.8 93.4,434.3 95.6,435.0 97.8,435.8 100.0,436.6 102.3,437.5 104.7,438.5 107.0,439.6 109.3,440.8 111.5,442.1 113.5,443.5 115.3,445.0 116.9,446.7 118.5,448.4 119.9,450.3 121.2,452.1 122.5,454.0 123.7,455.9 124.8,457.8 125.9,459.8 126.8,461.8 127.7,463.9 128.5,466.0 129.2,468.2 129.9,470.4 130.5,472.7 130.9,474.9 131.3,477.2 131.5,479.5 131.5,481.8 131.4,484.1 131.2,486.3 130.9,488.6 130.5,490.8 130.0,493.0 129.5,495.1 128.9,497.2 128.2,499.2 127.4,501.2 126.5,503.1 125.5,505.0 124.3,506.9 123.0,508.8 121.6,510.6 120.0,512.4 118.3,514.0 116.5,515.5 114.5,516.8 112.3,518.1 109.9,519.2 107.6,520.2 105.2,521.0 103.0,521.5 100.9,521.8 98.8,521.8 96.8,521.7 94.8,521.4 92.9,521.0 91.0,520.6 89.2,520.1 87.4,519.6 85.7,518.9 83.9,518.3 82.2,517.6 80.5,517.0 78.7,516.5 76.9,516.2 75.2,515.8 73.4,515.4 71.7,514.8 70.0,514.0 68.4,512.8 66.8,511.4 65.2,509.9 63.7,508.2 62.3,506.6 61.0,505.0 59.8,503.5 58.8,502.0 57.9,500.5 57.0,499.0 56.1,497.5 55.0,496.0 53.8,494.5 52.6,493.1 51.2,491.7 49.9,490.2 48.7,488.7 47.5,487.0 46.3,485.2 45.2,483.3 44.0,481.4 43.0,479.3 42.1,477.2 41.5,475.0 41.1,472.7 40.8,470.2 40.7,467.7 40.7,465.1 41.0,462.5 41.5,460.0 42.3,457.4 43.5,454.8 44.9,452.1 46.3,449.6 47.8,447.2 49.0,445.0 50.0,443.1 50.8,441.3 51.5,439.7 52.4,438.3 53.5,437.0Z" fill="none" stroke="#1a1a1a" stroke-width="0.75" stroke-dasharray="3.6 1.4 0.9 1.4"/>
<path d="M93.0,464.0 94.2,464.4 96.0,464.9 98.1,465.5 100.2,466.2 102.3,467.1 104.0,468.0 105.4,469.1 106.8,470.2 108.0,471.5 109.1,472.9 110.1,474.4 111.0,476.0 111.7,477.8 112.3,479.7 112.8,481.8 113.2,483.9 113.5,486.0 113.6,488.0 113.6,490.0 113.5,492.1 113.3,494.2 113.0,496.3 112.6,498.2 112.0,500.0 111.3,501.6 110.5,503.2 109.5,504.6 108.5,505.9 107.3,507.1 106.0,508.0 104.4,508.7 102.6,509.2 100.6,509.5 98.7,509.7 97.1,509.9 96.0,510.0" fill="none" stroke="#0d0d0d" stroke-width="1.7" stroke-dasharray="4.6 2" stroke-linejoin="round" stroke-linecap="butt"/>
<path d="M63.0,486.0 63.3,485.8 63.7,485.5 64.3,485.4 64.9,485.2 65.4,485.2 66.0,485.2 66.6,485.4 67.3,485.7 68.0,486.1 68.6,486.5 69.0,486.9 69.2,487.2 69.1,487.5 68.7,487.8 68.2,488.1 67.6,488.3 66.9,488.5 66.4,488.6 65.9,488.6 65.3,488.6 64.8,488.5 64.2,488.4 63.8,488.2 63.4,488.0 63.1,487.7 62.9,487.4 62.8,487.0 62.8,486.6 62.8,486.3Z" fill="#0d0d0d" stroke="#0d0d0d" stroke-width="0.6"/>
<path d="M77.6,462.4 80.4,459.6 84.8,457.6" fill="none" stroke="#0d0d0d" stroke-width="1.5" stroke-linejoin="round" stroke-linecap="round"/>
<path d="M56.0,498.0 64.0,508.0 76.0,510.0 82.0,506.0" fill="none" stroke="#0d0d0d" stroke-width="1.3" stroke-linejoin="round" stroke-linecap="round"/>
</g></g>
<ellipse cx="86.5" cy="490.1" rx="67.7" ry="69.0" fill="none" stroke="#3a3a3a" stroke-width="0.75"/>
<rect x="191.2" y="557.42" width="10.8" height="13.68" fill="#5e4fa2"/>
<rect x="191.2" y="544.03" width="10.8" height="13.68" fill="#3682ba"/>
<rect x="191.2" y="530.65" width="10.8" height="13.68" fill="#5cb7aa"/>
<rect x="191.2" y="517.27" width="10.8" height="13.68" fill="#97d5a4"/>
<rect x="191.2" y="503.88" width="10.8" height="13.68" fill="#d1ed9c"/>
<rect x="191.2" y="490.50" width="10.8" height="13.68" fill="#f4faad"/>
<rect x="191.2" y="477.12" width="10.8" height="13.68" fill="#fff1a8"/>
<rect x="191.2" y="463.73" width="10.8" height="13.68" fill="#fece7c"/>
<rect x="191.2" y="450.35" width="10.8" height="13.68" fill="#fa9b58"/>
<rect x="191.2" y="436.97" width="10.8" height="13.68" fill="#ee6445"/>
<rect x="191.2" y="423.58" width="10.8" height="13.68" fill="#d0384e"/>
<rect x="191.2" y="410.20" width="10.8" height="13.68" fill="#9e0142"/>
<rect x="191.2" y="410.2" width="10.8" height="160.60" fill="none" stroke="#4a4a4a" stroke-width="0.9"/>
<line x1="200.0" y1="570.80" x2="202.0" y2="570.80" stroke="#333" stroke-width="0.7"/>
<text class="tk" transform="translate(204.4,573.90) scale(0.88,1)">3</text>
<line x1="200.0" y1="557.42" x2="202.0" y2="557.42" stroke="#333" stroke-width="0.7"/>
<text class="tk" transform="translate(204.4,560.52) scale(0.88,1)">3.5</text>
<line x1="200.0" y1="544.03" x2="202.0" y2="544.03" stroke="#333" stroke-width="0.7"/>
<text class="tk" transform="translate(204.4,547.13) scale(0.88,1)">4</text>
<line x1="200.0" y1="530.65" x2="202.0" y2="530.65" stroke="#333" stroke-width="0.7"/>
<text class="tk" transform="translate(204.4,533.75) scale(0.88,1)">4.5</text>
<line x1="200.0" y1="517.27" x2="202.0" y2="517.27" stroke="#333" stroke-width="0.7"/>
<text class="tk" transform="translate(204.4,520.37) scale(0.88,1)">5</text>
<line x1="200.0" y1="503.88" x2="202.0" y2="503.88" stroke="#333" stroke-width="0.7"/>
<text class="tk" transform="translate(204.4,506.98) scale(0.88,1)">5.5</text>
<line x1="200.0" y1="490.50" x2="202.0" y2="490.50" stroke="#333" stroke-width="0.7"/>
<text class="tk" transform="translate(204.4,493.60) scale(0.88,1)">6</text>
<line x1="200.0" y1="477.12" x2="202.0" y2="477.12" stroke="#333" stroke-width="0.7"/>
<text class="tk" transform="translate(204.4,480.22) scale(0.88,1)">6.5</text>
<line x1="200.0" y1="463.73" x2="202.0" y2="463.73" stroke="#333" stroke-width="0.7"/>
<text class="tk" transform="translate(204.4,466.83) scale(0.88,1)">7</text>
<line x1="200.0" y1="450.35" x2="202.0" y2="450.35" stroke="#333" stroke-width="0.7"/>
<text class="tk" transform="translate(204.4,453.45) scale(0.88,1)">7.5</text>
<line x1="200.0" y1="436.97" x2="202.0" y2="436.97" stroke="#333" stroke-width="0.7"/>
<text class="tk" transform="translate(204.4,440.07) scale(0.88,1)">8</text>
<line x1="200.0" y1="423.58" x2="202.0" y2="423.58" stroke="#333" stroke-width="0.7"/>
<text class="tk" transform="translate(204.4,426.68) scale(0.88,1)">8.5</text>
<line x1="200.0" y1="410.20" x2="202.0" y2="410.20" stroke="#333" stroke-width="0.7"/>
<text class="tk" transform="translate(204.4,413.30) scale(0.88,1)">9</text>
<text class="ct" transform="translate(228.5,490.5) rotate(-90)" text-anchor="middle">Concentration O<tspan dy="3.6" font-size="7.4">3</tspan><tspan dy="-3.6"> (ppmv)</tspan></text>
<g clip-path="url(#clf)"><g filter="url(#bl)">
<circle cx="340.9" cy="490.2" r="72.0" fill="#5e4fa2"/>
<circle cx="340.9" cy="490.2" r="69.0" fill="#5e4fa2"/>
<path fill="#3682ba" fill-rule="evenodd" d="M260,408 347,408 347,422.6 347.4,425.5 348.1,427 351.5,429.9 356.3,432.8 362.2,434.5 366.5,434.8 369.5,434.7 370.7,434.3 371.1,428.4 371.8,425.5 375.8,421.1 376.5,419.7 377,416.8 377,408 422,408 422,483 413.2,483 409.4,483.9 403.5,489.7 402.6,491.2 402.6,492.6 403.3,494.1 405.9,497.1 406.6,498.5 407.4,503.3 409,505.8 411.8,506.8 422,507 422,525 413.2,525 410.3,524.5 408.2,523.3 398.6,513.9 395.7,513.2 392.8,513.7 391.3,514.5 384.5,520.4 381.1,523.8 373.8,526.2 366.8,532.1 363.6,535.5 362,536.4 356.1,537.9 354.7,539.4 354.6,540.8 357.4,545.2 357.5,546.6 356.7,548.1 350.9,553.9 349,554.7 346.1,554.8 343.2,554 341.7,552.8 337.3,548.1 336.6,546.6 336.7,545.2 338.3,543.7 343.2,542.7 344.6,542 345.9,540.8 346.9,537.9 346.7,536.4 346,535 344.2,533.5 340.3,532.1 331.5,530.4 329.6,529.1 319.8,520 316.9,519.2 311.1,519.1 311.2,526.2 312.2,529.1 327.1,544.1 328,545.2 328.9,548.1 328.7,551 328.1,552.5 327.1,553.6 325.7,554.5 322.8,555 316.9,554.9 313.2,553.9 311.9,552.5 310.6,546.6 309.6,544.8 308.2,543.7 302.3,542.5 300.9,541.8 294.1,535 293.4,533.5 292.2,527.7 291,526.2 289.2,525.4 284.8,524.6 283.4,524 281.6,521.8 281,517.5 281.1,499.9 282.1,497 285.7,492.6 286.2,491.2 285.9,489.7 284.8,489.3 281.9,489.1 260,489 260,471 276.1,471.2 279,472.1 281.9,474.7 283.4,475.4 284.8,475.3 286.2,473.7 286.6,472.2 286.9,466.4 286.7,463.5 285.5,460.5 279,454.1 277.5,453.4 274.6,453 260,453ZM303.8,507.2 300.9,508.3 299.6,510.2 299.1,513.1 299.6,516 300.6,517.5 302.3,518.5 305.2,519 310.9,518.9 310.8,513.1 310,510.2 308.7,508.7 306.7,507.5ZM372.4,435.5 372.2,437.2 372.9,438.6 376.8,442.9 379.7,445 381.6,444.5 382.5,443 382.8,440.1 382.5,438.6 381.1,436.4 378.2,435.2Z"/>
<path fill="#5cb7aa" fill-rule="evenodd" d="M329.2,408 334.8,408 334.7,424.1 333.4,427 331.4,428.4 330.3,429.9 331.3,431.4 335.4,432.8 349,433.5 351.9,434.5 360.7,438.6 366.5,440.5 369.5,442.6 376.8,449.4 383.3,453.2 387,458.8 389.9,461.6 394.3,463.5 403,465.5 404.7,466.4 405.5,467.8 405.2,469.3 397.2,478.6 395.7,481 395.2,483.9 394.8,497 394.4,498.5 391.4,503.9 390.2,507.2 388.5,510.2 385.5,512.9 379.7,516 376.8,519.2 371.9,521.8 367.8,524.8 361,527.7 357.8,529.8 354.9,530.8 351.9,530.9 349,530.4 338.8,527.2 333,526.3 330.1,524.8 321.3,516.3 317.1,513.1 313.7,508.7 309.6,504.6 305.2,501.3 301.7,497 294.5,492.6 293.4,491.2 293.1,489.7 292.7,485.4 291.4,479.5 291.2,476.6 291,451.8 291.6,447.4 292.6,444.5 297.9,437.8 299.5,432.8 300.9,430.8 302.3,430.4 306.7,431.7 308.2,431.4 312.5,427.8 315.5,427.1 319.8,427.2 327.1,428.4 328.6,428.1 329.1,427Z"/>
<path fill="#97d5a4" fill-rule="evenodd" d="M314.1,431.4 316.9,430.8 321.2,431.4 330.1,435.4 333,436.4 335.9,436.6 344.6,435.4 349,436.3 353.4,438.2 366.5,444.8 369.5,446.7 373.8,450.9 379.7,454.7 381.1,456.1 385.5,462.6 393.4,467.8 394.4,469.3 394.7,472.2 394.3,473.7 391.8,478.1 390.9,481 390.4,497 389.5,499.9 387,504.9 384.1,508.7 378.2,512.9 373.8,517.2 363.6,524.1 360.7,525.2 354.9,526.5 347.6,526.7 343.2,526.2 333,523.5 330.7,521.8 318.4,509.8 312.5,505.7 303.8,496.6 298.4,492.6 296.4,489.7 294,483.9 293,478.1 293.2,462 295.3,448.9 298.3,443 303.8,437.1 305.6,435.7 309.6,434.1Z"/>
<path fill="#d1ed9c" fill-rule="evenodd" d="M308.2,435.3 314,433.8 316.9,434 333,439.1 337.4,439.1 341.7,437.8 344.6,437.5 356.9,441.6 368,448.9 372.4,453.2 378.2,457.4 383.3,463.5 388.2,466.4 389.5,467.8 390,470.8 389,476.6 388.9,491.2 387.6,497 385.5,501.1 381.1,506 377.2,511.6 370.8,517.5 365.4,520.4 361.4,523.3 357.8,524.5 353.4,525 346.1,525 343.2,524.7 338.8,523.6 333,520.9 330.1,518.9 319.8,509 312.8,505.8 307.1,498.5 301.1,494.1 299.8,492.6 294.5,479.5 293.6,476 293.5,472.2 295,462 296.9,456.2 297.7,450.3 299.6,445.9 306.7,436.3Z"/>
<path fill="#f4faad" fill-rule="evenodd" d="M308.9,437.2 311.1,436.8 314,437 319.8,438.9 333,440.9 344.6,440.2 350.5,442.3 354.9,443 356.3,443.7 362.2,448.5 369.5,452.7 379.7,462.8 384.1,465.8 385.5,467.2 386.2,469.3 385.4,473.7 385.5,475.1 386.8,479.5 387.3,483.9 387.2,489.7 386.3,494.1 384,498.5 378.7,504.3 374.9,510.2 367.5,517.5 360.7,521.2 356.3,522.9 353.4,523.3 347.3,523.3 344.6,523.1 341.7,522.3 332.5,517.5 324.5,511.6 321.3,508.2 314,504.9 312.5,503.4 309.6,498.8 308.2,497.1 302.3,493.2 300.9,491.6 299.5,488.3 297.9,481.8 295.9,476.6 295.4,473.7 297,467.8 297.6,462 300.6,450.3 305.6,440.1 306.7,438.6Z"/>
<path fill="#fff1a8" fill-rule="evenodd" d="M309.8,441.6 312.5,441.3 321.3,442.6 340.3,442.7 344.6,443.3 350.5,446.4 356.3,448 362.2,452.7 368,455.3 376.8,463.1 382.1,466.4 383.2,467.8 383.4,469.3 381.9,475.1 382.9,482.4 382.7,491.2 381.2,497 375,507.2 364.5,516 357.8,519.6 353.4,520.6 346.1,520.6 341.7,519.3 328.6,512.7 322.8,508.5 317.7,505.8 314.3,502.9 309.6,496.5 304.4,492.6 302.4,489.7 300.9,485.4 300.5,479.5 299.1,472.2 299,459.1 299.8,454.7 300.9,453 305.2,448.9 308,443Z"/>
<path fill="#fece7c" fill-rule="evenodd" d="M323.2,445.9 327.1,445.4 331.5,445.4 343.2,447.6 349,450.7 354.9,452.7 360.7,456.5 367.5,459.1 373.8,464.5 378.9,467.8 379.4,469.3 377.9,473.7 377.8,475.1 378.7,482.4 378.5,492.6 377.9,495.6 375.3,502.6 374.3,504.3 372.8,505.8 368.3,508.7 363.6,513.2 360.7,515.1 356.3,516.9 351.9,517.3 344.6,517.1 340.3,515.6 321,505.8 313.2,498.5 308.2,493.1 306.9,491.2 305.3,485.4 304.8,475.1 303.7,472.2 300.9,467.8 299.8,464.9 299.4,462 299.9,459.1 300.9,456.8 302.3,455.4 306.7,453.8 314,452.4 315.5,451.6 319.5,447.4Z"/>
<path fill="#fa9b58" fill-rule="evenodd" d="M342,454.7 344.6,453.9 349.2,454.7 352.6,456.2 357.8,459.6 362.2,461 365.1,462.5 369.3,466.4 371.5,469.3 374.8,479.5 375.3,483.9 375.1,491.2 373.3,497 372.3,502.9 371.6,504.3 370.1,505.8 365.1,508.6 360.7,512 357.8,513.5 354.9,514.4 347.6,514.6 343.2,513.9 338.6,511.6 331.5,506.6 325.2,504.3 319.8,500.2 313.8,494.1 312.5,492.6 311.3,489.7 311.2,476.6 311.8,473.7 312.7,472.2 318.4,466.5 319.8,465.6 330.1,463.6 334.4,461.9 337.4,459.5Z"/>
<path fill="#ee6445" fill-rule="evenodd" d="M342.8,460.5 346.1,459.2 349,459.5 354.9,462.6 360.7,463.6 363.6,464.9 365.2,466.4 367.1,469.3 372,479.5 372.7,483.9 372.4,491.2 370.1,497 368.9,502.9 368.2,504.3 366.8,505.8 359.2,511.1 356.3,512.3 353.4,512.3 344.6,511 342.4,510.2 340.8,508.7 339.6,505.8 338.8,499.5 337.9,497 335.9,495.4 331.5,494.1 330,492.6 329.1,489.7 329,483.9 328.4,481 324.3,475.1 324.1,473.7 324.5,472.2 326.5,469.3 329.6,466.4 331.5,465.4 337.6,463.5Z"/>
<path fill="#d0384e" fill-rule="evenodd" d="M340.3,466.3 347.6,463.9 350.5,463.9 360.8,466.4 362.8,467.8 364,469.3 367.1,475.1 368.8,479.5 369.3,483.9 369.1,491.2 367.3,497 366.3,502.9 365.6,504.3 364.1,505.8 356.3,510.1 353.4,510 347.6,508.2 345.4,507.2 343.8,505.8 341.8,501.4 339.3,491.2 338.9,482.4 338.2,479.5 337,478.1 331.5,475.4 330.4,473.7 330.6,470.8 331.2,469.3 332.5,467.8 334.4,467.2Z"/>
<path fill="#9e0142" fill-rule="evenodd" d="M348.9,467.8 351.9,467.1 354.9,467.2 357,467.8 359.2,469.3 362.2,472.8 364.3,479.5 364.9,483.9 364.8,489.7 362.5,502.9 360.7,504.9 357.8,505.9 353.5,505.8 349,504.3 347,502.9 344.6,500.4 343.2,497 342.9,481 342.1,473.7 343.2,471.9Z"/>
<ellipse cx="340.9" cy="490.2" rx="13.0" ry="13.3" fill="#fff"/>
<g transform="translate(340.9,490.2) scale(0.9812,1.0000)"><use href="#grat"/><use href="#coast"/>
<g fill="none" stroke="#222" stroke-width="0.7" stroke-linejoin="round"><circle r="1.7" fill="#fff"/><path d="M0,1.7 L-0.3,8.4 L2.7,12.3"/><path d="M-5.8,11.6 L-4.6,7 L-1.6,8.8"/></g>
</g>
<path d="M309.4,436.1 311.4,435.3 313.7,434.7 316.2,434.4 319.0,434.1 321.7,433.9 324.4,433.7 327.1,433.4 329.9,433.2 332.7,433.0 335.6,432.9 338.3,432.9 340.9,433.1 343.3,433.4 345.6,433.9 347.8,434.4 350.0,435.1 352.2,435.9 354.4,436.7 356.7,437.6 359.1,438.6 361.4,439.7 363.7,440.9 365.9,442.2 367.9,443.6 369.7,445.1 371.3,446.8 372.9,448.5 374.3,450.4 375.6,452.2 376.9,454.1 378.1,456.0 379.2,457.9 380.3,459.9 381.2,461.9 382.1,464.0 382.9,466.1 383.6,468.3 384.3,470.5 384.9,472.8 385.3,475.0 385.7,477.3 385.9,479.6 385.9,481.9 385.8,484.2 385.6,486.4 385.3,488.7 384.9,490.9 384.4,493.1 383.9,495.2 383.3,497.3 382.6,499.3 381.8,501.3 380.9,503.2 379.9,505.1 378.7,507.0 377.4,508.9 376.0,510.7 374.4,512.5 372.7,514.1 370.9,515.6 368.9,516.9 366.7,518.2 364.3,519.3 362.0,520.3 359.6,521.1 357.4,521.6 355.3,521.9 353.2,521.9 351.2,521.8 349.2,521.5 347.3,521.1 345.4,520.7 343.6,520.2 341.8,519.7 340.1,519.0 338.3,518.4 336.6,517.7 334.9,517.1 333.1,516.6 331.3,516.3 329.6,515.9 327.8,515.5 326.1,514.9 324.4,514.1 322.8,512.9 321.2,511.5 319.6,510.0 318.1,508.3 316.7,506.7 315.4,505.1 314.2,503.6 313.2,502.1 312.3,500.6 311.4,499.1 310.5,497.6 309.4,496.1 308.2,494.6 307.0,493.2 305.6,491.8 304.3,490.3 303.1,488.8 301.9,487.1 300.7,485.3 299.6,483.4 298.4,481.5 297.4,479.4 296.5,477.3 295.9,475.1 295.5,472.8 295.2,470.3 295.1,467.8 295.1,465.2 295.4,462.6 295.9,460.1 296.7,457.5 297.9,454.9 299.3,452.2 300.7,449.7 302.1,447.3 303.4,445.1 304.4,443.2 305.2,441.4 305.9,439.8 306.8,438.4 307.9,437.1Z" fill="none" stroke="#1a1a1a" stroke-width="0.75" stroke-dasharray="3.6 1.4 0.9 1.4"/>
<path d="M347.4,464.1 348.6,464.5 350.4,465.0 352.5,465.6 354.6,466.3 356.7,467.2 358.4,468.1 359.8,469.2 361.2,470.3 362.4,471.6 363.5,473.0 364.5,474.5 365.4,476.1 366.1,477.9 366.7,479.8 367.2,481.8 367.6,484.0 367.9,486.1 368.0,488.1 368.0,490.1 367.9,492.2 367.7,494.3 367.4,496.4 367.0,498.3 366.4,500.1 365.7,501.7 364.9,503.3 363.9,504.7 362.9,506.0 361.7,507.2 360.4,508.1 358.8,508.8 357.0,509.3 355.0,509.6 353.1,509.8 351.5,510.0 350.4,510.1" fill="none" stroke="#0d0d0d" stroke-width="1.7" stroke-dasharray="4.6 2" stroke-linejoin="round" stroke-linecap="butt"/>
<path d="M317.4,486.1 317.7,485.9 318.1,485.6 318.7,485.4 319.3,485.3 319.8,485.3 320.4,485.3 321.0,485.5 321.7,485.8 322.4,486.2 323.0,486.6 323.4,487.0 323.6,487.3 323.5,487.6 323.1,487.9 322.6,488.2 322.0,488.4 321.3,488.6 320.8,488.7 320.3,488.7 319.7,488.7 319.1,488.6 318.6,488.5 318.2,488.3 317.8,488.1 317.5,487.8 317.3,487.5 317.2,487.1 317.2,486.7 317.2,486.4Z" fill="#0d0d0d" stroke="#0d0d0d" stroke-width="0.6"/>
<path d="M332.0,462.5 334.8,459.7 339.2,457.7" fill="none" stroke="#0d0d0d" stroke-width="1.5" stroke-linejoin="round" stroke-linecap="round"/>
<path d="M310.4,498.1 318.4,508.1 330.4,510.1 336.4,506.1" fill="none" stroke="#0d0d0d" stroke-width="1.3" stroke-linejoin="round" stroke-linecap="round"/>
</g></g>
<ellipse cx="340.9" cy="490.2" rx="67.7" ry="69.0" fill="none" stroke="#3a3a3a" stroke-width="0.75"/>
<rect x="446.2" y="557.42" width="10.8" height="13.68" fill="#5e4fa2"/>
<rect x="446.2" y="544.03" width="10.8" height="13.68" fill="#3682ba"/>
<rect x="446.2" y="530.65" width="10.8" height="13.68" fill="#5cb7aa"/>
<rect x="446.2" y="517.27" width="10.8" height="13.68" fill="#97d5a4"/>
<rect x="446.2" y="503.88" width="10.8" height="13.68" fill="#d1ed9c"/>
<rect x="446.2" y="490.50" width="10.8" height="13.68" fill="#f4faad"/>
<rect x="446.2" y="477.12" width="10.8" height="13.68" fill="#fff1a8"/>
<rect x="446.2" y="463.73" width="10.8" height="13.68" fill="#fece7c"/>
<rect x="446.2" y="450.35" width="10.8" height="13.68" fill="#fa9b58"/>
<rect x="446.2" y="436.97" width="10.8" height="13.68" fill="#ee6445"/>
<rect x="446.2" y="423.58" width="10.8" height="13.68" fill="#d0384e"/>
<rect x="446.2" y="410.20" width="10.8" height="13.68" fill="#9e0142"/>
<rect x="446.2" y="410.2" width="10.8" height="160.60" fill="none" stroke="#4a4a4a" stroke-width="0.9"/>
<line x1="455.0" y1="570.80" x2="457.0" y2="570.80" stroke="#333" stroke-width="0.7"/>
<text class="tk" transform="translate(459.4,573.90) scale(0.88,1)">0</text>
<line x1="455.0" y1="557.42" x2="457.0" y2="557.42" stroke="#333" stroke-width="0.7"/>
<text class="tk" transform="translate(459.4,560.52) scale(0.88,1)">0.02</text>
<line x1="455.0" y1="544.03" x2="457.0" y2="544.03" stroke="#333" stroke-width="0.7"/>
<text class="tk" transform="translate(459.4,547.13) scale(0.88,1)">0.04</text>
<line x1="455.0" y1="530.65" x2="457.0" y2="530.65" stroke="#333" stroke-width="0.7"/>
<text class="tk" transform="translate(459.4,533.75) scale(0.88,1)">0.06</text>
<line x1="455.0" y1="517.27" x2="457.0" y2="517.27" stroke="#333" stroke-width="0.7"/>
<text class="tk" transform="translate(459.4,520.37) scale(0.88,1)">0.08</text>
<line x1="455.0" y1="503.88" x2="457.0" y2="503.88" stroke="#333" stroke-width="0.7"/>
<text class="tk" transform="translate(459.4,506.98) scale(0.88,1)">0.1</text>
<line x1="455.0" y1="490.50" x2="457.0" y2="490.50" stroke="#333" stroke-width="0.7"/>
<text class="tk" transform="translate(459.4,493.60) scale(0.88,1)">0.12</text>
<line x1="455.0" y1="477.12" x2="457.0" y2="477.12" stroke="#333" stroke-width="0.7"/>
<text class="tk" transform="translate(459.4,480.22) scale(0.88,1)">0.14</text>
<line x1="455.0" y1="463.73" x2="457.0" y2="463.73" stroke="#333" stroke-width="0.7"/>
<text class="tk" transform="translate(459.4,466.83) scale(0.88,1)">0.16</text>
<line x1="455.0" y1="450.35" x2="457.0" y2="450.35" stroke="#333" stroke-width="0.7"/>
<text class="tk" transform="translate(459.4,453.45) scale(0.88,1)">0.18</text>
<line x1="455.0" y1="436.97" x2="457.0" y2="436.97" stroke="#333" stroke-width="0.7"/>
<text class="tk" transform="translate(459.4,440.07) scale(0.88,1)">0.2</text>
<line x1="455.0" y1="423.58" x2="457.0" y2="423.58" stroke="#333" stroke-width="0.7"/>
<text class="tk" transform="translate(459.4,426.68) scale(0.88,1)">0.22</text>
<line x1="455.0" y1="410.20" x2="457.0" y2="410.20" stroke="#333" stroke-width="0.7"/>
<text class="tk" transform="translate(459.4,413.30) scale(0.88,1)">0.24</text>
<text class="ct" transform="translate(488.4,490.5) rotate(-90)" text-anchor="middle">Concentration CO (ppmv)</text>
<g clip-path="url(#clg)"><g filter="url(#bl)">
<circle cx="89.1" cy="678.3" r="70.9" fill="#5e4fa2"/>
<circle cx="89.1" cy="678.3" r="67.9" fill="#5e4fa2"/>
<path fill="#3682ba" fill-rule="evenodd" d="M8,597 170,597 170,759 8,759ZM76.6,678.3 75.1,678.8 73.5,680.2 73.1,681.6 74.3,683.1 78.1,683.8 88.3,683.8 88.6,680.2 88.3,678.5Z"/>
<path fill="#5cb7aa" fill-rule="evenodd" d="M8,597 170,597 170,759 8,759ZM79.5,654.9 77.7,656.8 76.5,662.7 75.8,664.1 72.2,667.9 70.4,674.4 65.6,681.6 65.3,683.1 65.4,686 66.9,688.9 72.2,694.3 73.7,695.2 76.6,695.9 88.3,695.9 88.9,686 89.7,681.9 91.3,681.6 93.8,680.2 94.8,677.3 94.3,674.4 92.6,668.9 89.3,662.7 88.5,658.3 87.7,656.8 86.3,655.4 83.9,654.3 81,654.4Z"/>
<path fill="#97d5a4" fill-rule="evenodd" d="M8,597 170,597 170,759 8,759ZM83.9,645.9 79.5,648.2 72.4,651 69.3,653.7 67.8,655.8 66.4,659.7 65.3,664.1 64.9,671.4 64.4,674.4 61.9,678.7 61,681.6 60.7,686 61,694.8 61.3,697.7 62,699 63.5,700.1 68.1,702.1 72.2,705.9 73.7,706.6 75.1,706.3 78.4,703.5 81,702.4 88.3,702.1 89.7,685.8 92.6,685.1 96.3,683.1 98,681.6 99.1,678.7 98.8,674.4 92.4,655.4 86.7,646.6 85.4,645.7Z"/>
<path fill="#d1ed9c" fill-rule="evenodd" d="M8,597 170,597 170,759 8,759ZM81,641.6 75.3,645.2 69.3,647.7 67.8,649.1 62,660.1 60.8,664.1 60.3,674.4 58.1,680.2 57.4,683.1 57,700.6 56.6,702.1 54.3,705 53.2,707.9 53.2,713.8 54.2,716.7 56.2,718.1 57.6,717.9 60.5,715.8 62,715.4 63.5,716 64.6,718.1 65.4,722.5 66.1,724 70.1,728.4 71.9,734.2 73.7,735.7 75.1,735.5 76.6,734.4 79.5,731.2 80.9,728.4 82.3,724 83.8,716.7 85.4,715 88.3,714.1 88.8,703.5 89.7,695.6 91.2,694.8 92.3,693.3 93.8,687.5 94.9,686 98.5,683.4 99.9,681.8 100.9,678.7 100.7,674.4 98.9,662.7 95.5,652.5 90.5,645.2 88.3,642.6 85.4,641.1 83.9,641Z"/>
<path fill="#f4faad" fill-rule="evenodd" d="M8,597 170,597 170,759 8,759ZM75.1,636.3 72.2,637.7 69.4,640.8 65.9,643.7 64.2,646.6 62.1,652.5 60,655.4 58.5,658.3 57.5,662.7 57,674.4 56.2,677 54.3,680.2 53.2,683.1 52.5,697.7 51.8,699.2 48.1,703.5 47.2,706.5 47,709.4 47.3,715.2 47.7,716.7 49.7,719.6 53.2,723.8 57.6,727.5 70.8,741.3 72.2,742.3 73.7,742.6 75.1,742.1 78.1,739.8 80.2,737.1 85.4,728.2 86.8,726.8 88.3,726.2 89.7,701.7 91.7,700.6 93.6,697.7 94.5,694.8 95.4,687.5 96.1,686 99.9,682 100.9,680.2 102.2,675.8 102.7,671.4 102.3,661.2 100.7,652.5 99.2,649.5 90.8,640.8 86.8,637.4 85.4,636.6 82.4,636.1Z"/>
<path fill="#fff1a8" fill-rule="evenodd" d="M8,597 170,597 170,759 76.9,759 77,750.2 77.6,747.3 85.4,734.2 86.8,732.9 88.3,732.3 89.7,707.7 91.9,706.5 93.7,703.5 96,694.8 97.2,687.5 104.3,675.4 105.1,672.9 105.3,670 105.2,652.5 104.4,649.5 103.7,648.1 99.9,643.2 93.1,636.4 88.3,632.4 85.4,630.6 82.4,630.1 79.5,630 73.7,630.5 68.5,632 65.7,633.5 60.7,637.9 57.6,641.3 55.9,643.7 54.7,646.6 53.1,653.9 52.9,671.4 52.4,674.4 48.3,680.2 47.1,683.1 46.1,687.5 42.3,691.9 41.3,694.8 41.1,715.2 42,718.1 45.6,722.5 46.3,724 46.8,726.9 46,729.8 30.2,745.9 29.2,748.8 29,759 8,759Z"/>
<path fill="#fece7c" fill-rule="evenodd" d="M8,597 170,597 170,759 81.3,759 81.3,750.2 82.2,745.9 85.4,740.2 86.8,738.9 88.3,738.3 88.9,731.3 89.1,716.7 89.7,712.2 92.6,710.8 93.6,709.4 96.1,700.6 98.9,693.3 100.1,686 102.5,681.6 106.6,677.3 108.2,674.4 108.6,671.4 108.7,653.9 108.3,649.5 107.6,646.6 104.3,638 101.9,634.9 99.9,633.3 92.6,630 86.8,626.3 79.5,624.3 76.6,624.1 73.7,624.6 68.1,627.6 62,629.9 59.3,632 53.7,637.9 52.3,640.8 48.9,651 47.4,656.8 47.1,659.8 46.9,671.4 46.4,674.4 44.3,677.3 38.6,680.6 37.2,683.1 36.7,687.5 35.1,694.8 34.8,713.8 34.3,717.1 32.8,719.2 21.1,730.8 18.2,731.8 8,732Z"/>
<path fill="#fa9b58" fill-rule="evenodd" d="M8,597 170,597 170,759 85,759 85.4,747.7 86.8,745.2 88.3,744.4 88.5,742.9 89.7,715.9 92.6,715.4 94.1,714.7 96,712.3 97.6,703.5 100.5,699.2 101.9,696.2 102.9,687.5 103.8,684.6 106.2,680.2 110,675.8 111.1,672.9 111.3,648.1 110.6,643.7 107.7,634.9 105.8,632 104.3,630.7 101.4,629.1 97,627.6 91.2,623.9 85.3,621.8 79.5,618.6 75.1,617.9 64.9,618.1 62,618.6 60.5,619.4 54.7,625.1 48.7,632 47.3,634.9 46.8,643.7 46.3,646.6 41.5,662.7 40.7,672.9 40,674.4 35.5,678.7 33.8,681.6 32.8,687.5 29.2,694.8 28.8,702.1 28.3,705 27,706.8 24.1,707.9 8,708Z"/>
<path fill="#ee6445" fill-rule="evenodd" d="M8,597 41,597 41,605.8 41.5,608.7 42.2,610.1 45.9,614.1 46.9,617.4 46.9,623.3 46.3,626.2 41.8,632 41.3,633.5 40.9,636.4 40.6,651 38.6,657.3 35.6,662.7 35.1,665.6 34.9,671.4 34.3,674.4 29.8,680.2 28.5,686 27.8,687.5 26.6,688.9 24.7,690.4 21.1,691.6 8,692ZM83,597 170,597 170,759 88.7,759 88.7,748.8 89.7,726 94.1,725.9 97,725.3 99,724 100.2,722.5 100.7,721.1 101.4,706.7 102.1,705 105.6,700.6 106.1,699.2 105.7,693.3 106.3,688.9 109,681.6 113.6,675.8 114.5,672.9 114.6,646.6 112.3,633.5 109.1,629.1 104.3,625 98.5,623.2 92.6,618.7 86.8,617.3 85,616 83.8,614.5 83.1,611.6ZM136.4,696.1 133.5,696.9 132.5,697.7 131.6,699.2 131.2,700.6 131.2,703.5 132.9,712.3 132.4,722.5 133.5,724.2 135,724.2 136.4,723.3 140.8,719.3 146.6,713.1 147.3,712.3 147.6,710.8 147.1,709.4 144.4,706.5 143.6,705 142.4,699.2 141.5,697.7 139.4,696.4Z"/>
<path fill="#d0384e" fill-rule="evenodd" d="M99,597 170,597 170,612 159.8,612.2 156.9,613.2 139.6,630.6 138.7,632 138.6,633.5 139.8,634.9 140.8,635.4 145.2,635.5 146.6,635 148.1,633.9 155.7,626.2 157.7,624.7 161.2,624 170,624 170,666 155.4,666 152.5,666.4 151,667.1 149.6,668.4 140.8,677 139.4,677.6 135,678.3 133.5,678.9 132.1,680.2 131.4,681.6 130.6,686.3 130.1,687.5 128.7,688.9 126.2,689.8 116,690.1 114.5,690 113.4,688.9 113.2,684.6 113.8,681.6 118.2,675.8 119,672.9 119.1,653.9 117.5,645.2 117.1,633.5 116,630 111.6,624.9 107.7,621.8 101.4,618.3 99.8,616 99,611.6ZM8,648.1 29.9,648.2 32.8,649.4 33.5,651 33.1,652.5 30.5,655.4 29.2,658.3 28.4,668.6 27,671.1 24.1,674.1 23.3,675.8 22.6,684.6 21.9,686 19.7,687.6 16.8,688 8,688ZM113.5,697.7 114.5,696.5 116,696.9 117.5,697.9 118.2,699.2 118.8,702.1 118.8,706.5 117.5,707.5 115,706.5 113.8,705 113.2,702.1ZM119.1,709.4 120.4,708 123.3,708 126.2,708.5 127.7,709.6 128.3,710.8 128.9,713.8 128.5,716.7 127.7,718.4 126.2,719.5 124.8,719.7 123.3,719.5 121.1,718.1 119.9,716.7 119.3,715.2ZM105.5,725.4 107.2,724.8 110.2,724.8 118.1,728.4 123.3,731.5 132.1,732.2 135,733.2 142.2,740 148.1,746.4 149,750.2 149,759 89.4,759 89.7,743.9 92.6,743 94,741.5 95.2,735.6 96.8,732.7 102.9,727.3Z"/>
<path fill="#9e0142" fill-rule="evenodd" d="M103,597 125,597 124.8,607.2 123.8,610.1 118.1,616 116,617.4 111.6,617.8 105.5,616 103.9,614.5 103,611.6ZM122.2,633.5 123.3,632.9 123.8,633.5 124.6,636.4 124.6,642.2 124.2,643.7 123.3,645 121.8,643.8 121.6,642.2 121.6,634.9ZM142,642.2 148.1,642.1 151,642.5 153,643.7 153.5,645.2 153,646.6 148.1,652 146.6,653.1 143.7,653.9 140.8,653.6 138.6,652.5 137.6,651 137.2,649.5 137.2,646.6 137.6,645.2 138.5,643.7 139.4,643ZM107.6,729.8 110.2,729.1 112.4,729.8 116,732.7 123.9,740 124.6,741.5 125,744.4 125,759 101,759 101.3,737.1 102.9,733.9Z"/>
<ellipse cx="89.1" cy="678.3" rx="12.8" ry="13.0" fill="#fff"/>
<g transform="translate(89.1,678.3) scale(0.9667,0.9841)"><use href="#grat"/><use href="#coast"/>
<g fill="none" stroke="#222" stroke-width="0.7" stroke-linejoin="round"><circle r="1.7" fill="#fff"/><path d="M0,1.7 L-0.3,8.4 L2.7,12.3"/><path d="M-5.8,11.6 L-4.6,7 L-1.6,8.8"/></g>
</g>
<path d="M112.3,652.7 112.0,651.9 111.6,650.8 111.2,649.5 110.6,648.0 109.9,646.4 109.1,644.7 108.1,642.8 106.9,640.7 105.6,638.4 104.2,636.1 102.7,633.9 101.1,631.9 99.4,630.0 97.7,628.1 95.8,626.3 93.9,624.7 91.9,623.3 89.9,622.3 87.9,621.6 85.8,621.1 83.6,620.9 81.4,621.0 79.3,621.2 77.1,621.7 74.9,622.3 72.8,623.2 70.6,624.3 68.4,625.6 66.3,627.1 64.3,628.7 62.3,630.5 60.3,632.4 58.4,634.5 56.5,636.8 54.8,639.1 53.1,641.5 51.5,643.9 50.0,646.5 48.5,649.1 47.2,651.8 46.0,654.6 45.1,657.5 44.5,660.6 44.3,663.8 44.2,667.1 44.2,670.4 44.0,673.6 43.5,676.7 42.7,679.6 41.5,682.4 40.3,685.1 39.1,687.7 37.9,690.3 37.1,692.7 36.4,695.0 35.9,697.1 35.4,699.1 35.1,701.1 35.2,703.2 35.5,705.5 36.2,708.1 37.3,710.8 38.7,713.7 40.2,716.5 41.9,719.2 43.5,721.5 45.2,723.5 46.9,725.3 48.8,726.9 50.7,728.4 52.7,729.8 54.7,731.1 56.7,732.4 58.8,733.6 60.9,734.7 63.1,735.7 65.3,736.7 67.5,737.5 69.9,738.2 72.4,738.9 74.9,739.4 77.4,739.9 79.8,740.3 81.9,740.7 83.9,741.1 85.8,741.4 87.6,741.7 89.2,741.9 90.5,742.1 91.5,742.3" fill="none" stroke="#1a1a1a" stroke-width="0.75" stroke-dasharray="3.6 1.4 0.9 1.4"/>
<path d="M75.0,647.0 79.0,650.4" fill="none" stroke="#0d0d0d" stroke-width="1.7" stroke-dasharray="4.6 2" stroke-linejoin="round" stroke-linecap="butt"/>
<path d="M81.4,652.4 81.9,652.0 82.6,651.5 83.4,650.9 84.3,650.3 85.2,649.7 86.0,649.2 86.7,648.7 87.4,648.3 88.1,647.8 88.8,647.5 89.5,647.2 90.2,647.2 90.9,647.4 91.6,647.7 92.3,648.1 93.0,648.7 93.6,649.3 94.2,650.0 94.8,650.9 95.3,652.0 95.8,653.2 96.3,654.3 96.7,655.3 97.0,656.0" fill="none" stroke="#0d0d0d" stroke-width="1.7" stroke-dasharray="4.6 2" stroke-linejoin="round" stroke-linecap="butt"/>
<path d="M69.0,650.0 72.2,654.0 69.0,658.4" fill="none" stroke="#0d0d0d" stroke-width="1.7" stroke-dasharray="4.6 2" stroke-linejoin="round" stroke-linecap="butt"/>
<path d="M69.4,661.6 72.2,666.0" fill="none" stroke="#0d0d0d" stroke-width="1.7" stroke-dasharray="4.6 2" stroke-linejoin="round" stroke-linecap="butt"/>
<path d="M59.0,669.0 63.0,673.2 60.2,678.0 63.0,683.2" fill="none" stroke="#0d0d0d" stroke-width="1.7" stroke-dasharray="4.6 2" stroke-linejoin="round" stroke-linecap="butt"/>
<path d="M69.0,673.2 73.0,678.0 69.0,683.2" fill="none" stroke="#0d0d0d" stroke-width="1.7" stroke-dasharray="4.6 2" stroke-linejoin="round" stroke-linecap="butt"/>
<path d="M59.0,688.0 61.0,694.4" fill="none" stroke="#0d0d0d" stroke-width="1.7" stroke-dasharray="4.6 2" stroke-linejoin="round" stroke-linecap="butt"/>
<path d="M65.0,686.0 69.0,690.0 73.0,694.0" fill="none" stroke="#0d0d0d" stroke-width="1.7" stroke-dasharray="4.6 2" stroke-linejoin="round" stroke-linecap="butt"/>
<path d="M75.0,692.0 75.4,692.4 76.1,692.8 76.8,693.4 77.6,694.0 78.3,694.7 79.0,695.2 79.5,695.7 80.0,696.3 80.5,696.9 81.0,697.4 81.5,697.8 82.2,698.0 83.1,697.9 84.2,697.6 85.4,697.2 86.5,696.7 87.5,696.3 88.2,696.0" fill="none" stroke="#0d0d0d" stroke-width="1.7" stroke-dasharray="4.6 2" stroke-linejoin="round" stroke-linecap="butt"/>
<path d="M55.8,701.2 57.4,704.8 59.8,705.6" fill="none" stroke="#0d0d0d" stroke-width="1.6" stroke-linejoin="round" stroke-linecap="round"/>
<path d="M68.6,700.4 70.2,704.0 72.6,705.2" fill="none" stroke="#0d0d0d" stroke-width="1.6" stroke-linejoin="round" stroke-linecap="round"/>
<path d="M81.4,713.6 81.9,713.4 82.5,713.1 83.3,712.8 84.1,712.5 84.8,712.3 85.4,712.4 85.8,712.7 86.1,713.2 86.4,713.9 86.6,714.6 86.6,715.3 86.6,716.0 86.4,716.7 86.1,717.4 85.6,718.1 85.2,718.8 84.7,719.3 84.2,719.6 83.7,719.7 83.2,719.5 82.7,719.2 82.1,718.9 81.7,718.6 81.4,718.4" fill="none" stroke="#0d0d0d" stroke-width="1.6" stroke-linejoin="round" stroke-linecap="round"/>
<path d="M43.5,725.3 47.7,726.6 50.9,730.5 46.4,729.8Z" fill="#0d0d0d" stroke="#0d0d0d" stroke-width="0.6"/>
</g></g>
<ellipse cx="89.1" cy="678.3" rx="66.7" ry="67.9" fill="none" stroke="#3a3a3a" stroke-width="0.75"/>
<rect x="192.4" y="744.97" width="11.2" height="13.53" fill="#5e4fa2"/>
<rect x="192.4" y="731.73" width="11.2" height="13.53" fill="#3682ba"/>
<rect x="192.4" y="718.50" width="11.2" height="13.53" fill="#5cb7aa"/>
<rect x="192.4" y="705.27" width="11.2" height="13.53" fill="#97d5a4"/>
<rect x="192.4" y="692.03" width="11.2" height="13.53" fill="#d1ed9c"/>
<rect x="192.4" y="678.80" width="11.2" height="13.53" fill="#f4faad"/>
<rect x="192.4" y="665.57" width="11.2" height="13.53" fill="#fff1a8"/>
<rect x="192.4" y="652.33" width="11.2" height="13.53" fill="#fece7c"/>
<rect x="192.4" y="639.10" width="11.2" height="13.53" fill="#fa9b58"/>
<rect x="192.4" y="625.87" width="11.2" height="13.53" fill="#ee6445"/>
<rect x="192.4" y="612.63" width="11.2" height="13.53" fill="#d0384e"/>
<rect x="192.4" y="599.40" width="11.2" height="13.53" fill="#9e0142"/>
<rect x="192.4" y="599.4" width="11.2" height="158.80" fill="none" stroke="#4a4a4a" stroke-width="0.9"/>
<line x1="201.6" y1="758.20" x2="203.6" y2="758.20" stroke="#333" stroke-width="0.7"/>
<text class="tk" transform="translate(206.0,761.30) scale(0.88,1)">3</text>
<line x1="201.6" y1="744.97" x2="203.6" y2="744.97" stroke="#333" stroke-width="0.7"/>
<text class="tk" transform="translate(206.0,748.07) scale(0.88,1)">3.5</text>
<line x1="201.6" y1="731.73" x2="203.6" y2="731.73" stroke="#333" stroke-width="0.7"/>
<text class="tk" transform="translate(206.0,734.83) scale(0.88,1)">4</text>
<line x1="201.6" y1="718.50" x2="203.6" y2="718.50" stroke="#333" stroke-width="0.7"/>
<text class="tk" transform="translate(206.0,721.60) scale(0.88,1)">4.5</text>
<line x1="201.6" y1="705.27" x2="203.6" y2="705.27" stroke="#333" stroke-width="0.7"/>
<text class="tk" transform="translate(206.0,708.37) scale(0.88,1)">5</text>
<line x1="201.6" y1="692.03" x2="203.6" y2="692.03" stroke="#333" stroke-width="0.7"/>
<text class="tk" transform="translate(206.0,695.13) scale(0.88,1)">5.5</text>
<line x1="201.6" y1="678.80" x2="203.6" y2="678.80" stroke="#333" stroke-width="0.7"/>
<text class="tk" transform="translate(206.0,681.90) scale(0.88,1)">6</text>
<line x1="201.6" y1="665.57" x2="203.6" y2="665.57" stroke="#333" stroke-width="0.7"/>
<text class="tk" transform="translate(206.0,668.67) scale(0.88,1)">6.5</text>
<line x1="201.6" y1="652.33" x2="203.6" y2="652.33" stroke="#333" stroke-width="0.7"/>
<text class="tk" transform="translate(206.0,655.43) scale(0.88,1)">7</text>
<line x1="201.6" y1="639.10" x2="203.6" y2="639.10" stroke="#333" stroke-width="0.7"/>
<text class="tk" transform="translate(206.0,642.20) scale(0.88,1)">7.5</text>
<line x1="201.6" y1="625.87" x2="203.6" y2="625.87" stroke="#333" stroke-width="0.7"/>
<text class="tk" transform="translate(206.0,628.97) scale(0.88,1)">8</text>
<line x1="201.6" y1="612.63" x2="203.6" y2="612.63" stroke="#333" stroke-width="0.7"/>
<text class="tk" transform="translate(206.0,615.73) scale(0.88,1)">8.5</text>
<line x1="201.6" y1="599.40" x2="203.6" y2="599.40" stroke="#333" stroke-width="0.7"/>
<text class="tk" transform="translate(206.0,602.50) scale(0.88,1)">9</text>
<text class="ct" transform="translate(229.7,678.8) rotate(-90)" text-anchor="middle">Concentration O<tspan dy="3.6" font-size="7.4">3</tspan><tspan dy="-3.6"> (ppmv)</tspan></text>
<g clip-path="url(#clh)"><g filter="url(#bl)">
<circle cx="341.0" cy="678.4" r="70.9" fill="#5e4fa2"/>
<circle cx="341.0" cy="678.4" r="67.9" fill="#5e4fa2"/>
<path fill="#3484bb" fill-rule="evenodd" d="M260,597 422,597 422,714 413.2,714 410.3,713.5 408.2,712.3 402.4,706.5 401.2,703.5 401,696.2 400.5,693.3 399.8,691.9 395.3,687.5 392.8,681.4 391.4,679.3 389.9,678.4 388.4,678.1 384.1,678 381.1,678.6 379.6,680.2 378.2,684.6 378.2,686 378.6,687.5 382.1,691.9 382.7,693.3 383.2,700.6 383.8,702.1 387,703.3 388.4,704.5 393.1,709.4 393.5,710.8 393,712.3 391.4,713.4 387,714.3 384.9,715.2 378.9,721.1 377.8,722.5 377.2,724 377.4,728.4 378.2,730 379.7,731.2 385.5,732.4 387,733.1 399.8,745.9 400.8,748.8 401,759 260,759 260,706 276.1,705.9 278.7,705 279.6,703.5 279.5,702.1 278.7,699.2 277.5,697.4 276.1,696.5 273.1,696 260,696ZM281.9,662.3 276.1,668.1 275.3,670 275.2,672.9 276,675.8 277.2,677.3 281.3,680.2 283.4,680.4 284.8,679.2 287.2,674.4 289.2,671.4 289.9,668.5 289.2,666.5 286.3,662.5 284.8,661.6 283.4,661.5ZM293.6,643.6 291,645.2 290.7,646.6 292.1,647.4 293.6,647.4 295.7,646.6 296.8,645.2 296.5,644.1 295,643.4ZM350.9,721.1 341.7,722 341.4,726.9 341.7,731.9 344.6,731.8 346.8,731.3 348.7,726.9 351.5,722.5ZM356.3,715.2 354.8,716.7 354.2,718.1 354.9,719.4 362.2,720.5 366.5,724.2 368,724.6 369.5,724 370.4,722.5 370.8,721.1 370.7,718.1 369.5,715.7 368,714.7 365.1,714.2 360.7,714.3 357.8,714.6ZM373.8,645.1 371.3,648.1 368.1,651 367.5,652.5 367.7,655.4 369.5,656.6 370.9,656.2 374,653.9 375.5,652.5 376.3,651 376.6,649.5 376.4,646.6 375.3,644.8ZM379.7,661.5 378.3,662.7 377.8,664.1 378.2,665.3 378.7,665.6 384.1,665.5 386,664.1 385.2,662.7 384.1,662.2 381.1,661.3ZM398.6,643.5 398.3,645.2 399,646.6 400.1,647.3 403,647.4 404.7,646.6 405.4,645.2 404.9,643.7 403,642.6 400.1,642.5ZM381.1,704.3 380.3,705 381.1,705.2ZM350.5,733.9 350,734.2 352.4,735.6 355.4,735.6 353.5,734.2ZM373.8,668.4 373.3,670 373.8,670.3 375.5,668.5 375.3,668.1Z"/>
<path fill="#5cb7aa" fill-rule="evenodd" d="M293,597 353,597 353,617.4 353.4,620.4 354.3,621.8 356.3,622.9 362.2,622.4 369.5,623.6 370.5,623.3 370.9,621.9 371.1,617.4 371.8,614.5 375.8,610.1 376.5,608.7 377,605.8 377,597 422,597 422,612 411.8,612.2 408.9,613.2 391.4,630.6 389.3,633.5 389.1,637.9 389.6,639.3 392.8,644.6 394.9,652.5 394.6,656.8 392.8,659.1 389.9,659.9 387,659.8 384.1,658.8 382,656.8 381.4,655.4 381.3,652.5 383.1,642.2 383.1,636.4 382.6,633.5 381.1,631.1 375.3,625.6 372.4,624.6 371.9,624.7 371.3,626.2 370.9,636.4 370.1,640.8 368,645.2 365.1,647.9 364.1,649.5 363.4,652.5 363.4,655.4 364,658.3 365.1,660.1 368,662.7 368.3,664.1 365.3,668.5 364.1,671.4 363.7,675.8 364.3,681.6 363.1,688.9 362.2,691.2 360.7,692.9 356.3,695.2 355.2,696.2 354.3,697.7 354.1,699.2 354.9,701.1 356.3,701.9 357.8,701.5 359.8,699.2 361.8,694.8 363.6,692.9 366.4,691.9 372.4,690.9 373.8,691.1 375.3,691.9 376.8,693.4 377.9,696.2 377.8,699.2 377,700.6 375.3,702.5 368,708 363.6,709.2 357.8,709.1 356.3,709.5 351.9,714 347.2,718.1 344.6,719.4 341.7,719.9 341.2,722.5 341.1,729.8 341.7,738.2 349.2,740 351.6,741.5 352.5,742.9 353,745.9 353,759 260,759 260,710 279,709.7 281.9,708.7 283.4,707.6 284.1,706.5 284.4,703.5 281.4,693.3 281.3,688.9 281.9,687.5 286.3,684.5 288.4,681.6 291,675.8 292.4,671.4 292.6,668.5 291.7,661.2 292.4,658.3 294,655.4 299.4,650.5 301.5,648.1 302.9,645.2 304.4,639.3 304.8,636.4 305,627.6 304.6,621.8 303,618.9 295,611.1 293.6,608.9 293,605.8ZM260,648 260,630 268.8,630 271.7,630.5 273.1,631.2 277.5,635.2 280.4,635.9 287.7,636.3 289.2,636.8 290.2,637.9 289.7,639.3 286.6,642.2 284.8,644.5 283.4,645.7 281.2,646.6 277.5,647.6 274.6,648ZM395.6,670 397.2,667.9 398.6,667.8 399.6,668.5 400.4,670 400.8,672.9 400.5,678.7 400.1,680.3 398.6,680.9 397.2,679.2 395.5,674.4 395.3,671.4Z"/>
<path fill="#97d5a4" fill-rule="evenodd" d="M329,597 341,597 341,616 341.7,620.4 344,623.3 348.4,627.6 350.3,629.1 351.9,629.7 358.3,630.6 358.9,632 359.3,637.9 360.7,645.2 360.7,662.7 359.1,671.4 359,683.1 358.5,686 355.3,691.9 354.1,694.8 353.4,697.9 352.8,705 350.8,710.8 346.1,717.8 344.6,719 341.7,719.9 341.4,721.1 341,728.4 341.4,759 260,759 260,732 270.2,731.8 273.1,730.8 284.8,719.2 286.3,717.1 288.4,705 287.2,697.7 287.1,694.8 287.9,691.9 290.6,686.9 291.6,681.6 294.4,674.4 294.9,664.1 295.6,661.2 296.9,658.3 298.8,655.4 303.8,650 310,639.3 311.4,633.5 312.9,630.6 318.4,625.2 319.8,624.5 325.7,623 327.2,621.8 328.2,620.4 328.7,618.9 329,616ZM386.1,652.5 387,651.1 388.1,652.5 388.2,653.9 387,655.5 385.9,653.9ZM367.7,697.7 369.5,696.8 370.9,696.7 372.8,697.7 372.6,699.2 369.5,700.8 366.5,700.7 366.6,699.2Z"/>
<path fill="#d4ee9c" fill-rule="evenodd" d="M332.4,624.7 334.4,624.1 335.9,624.1 338.8,625.3 351.1,636.4 353.4,638.9 356.3,643.3 357.3,648.1 357.2,661.2 354.9,670 354.6,684.6 353.9,688.9 351.9,697.2 349,705 348.5,709.4 347.7,712.3 346.2,715.2 345,716.7 343.2,717.8 341.7,718.2 341,721.1 341,759 260,759 260,742 268.8,741.9 271.7,741.1 284.8,728.5 289.2,724 290.6,721.9 291.1,719.6 291.5,710.8 292.9,703.5 293.1,694.8 294.5,687.5 294.9,681.6 297.1,674.4 298.1,665.6 301.5,656.8 305.3,652.5 309.5,646.6 313.4,642.2 314.9,639.3 316.4,634.9 318.4,632.1 321.3,630.4 325.7,629.3Z"/>
<path fill="#fbeea5" fill-rule="evenodd" d="M332.8,630.6 335.9,630.2 338.8,631.4 341.7,633.8 348.8,640.8 351.9,644.2 353.5,646.6 354.3,649.5 354.6,652.5 354.4,658.3 351.5,668.5 351.3,688.9 350.9,693.3 348.1,700.6 345.8,709.4 344,712.3 341.7,713.7 340.6,721.1 340.4,724 341,732.7 340.7,759 260,759 260,746 270.2,745.9 273.1,745.3 274.6,744.4 293.6,725.1 294.6,721.1 295.1,710.8 298.2,705 298.9,702.1 297.4,691.9 297.7,681.6 299.9,675.8 301.2,668.5 304.6,658.3 306.7,655.4 314,647.5 318.4,639.6 319.8,637.6 321.3,636.6 325.7,635.3Z"/>
<path fill="#fed07d" fill-rule="evenodd" d="M332,636.4 334.4,635.2 335.9,635 338.8,635.6 340.3,636.5 346.2,642.2 348.5,645.2 350.6,649.5 351.2,653.9 351,656.8 348.9,664.1 348.6,690.4 348,694.8 346.2,702.1 345,705 343.2,707.1 341.7,707.7 340.3,718.5 337.4,719.8 336.4,721.1 336,722.5 336,724 337.4,726.3 338.8,727.3 340.3,727.8 340.6,734.2 340.3,738.1 337.4,739 336.2,740 335.5,741.5 335,744.4 335,759 279,759 279.1,748.8 279.8,745.9 280.7,744.4 290.6,734.7 296.5,728.4 299.5,712.3 300.9,709.9 303.8,706.5 304.5,705 304.9,702.1 304.6,699.2 302.2,694.8 301.2,691.9 300.9,683.1 301.4,680.2 304.4,674.4 305.5,668.5 307.5,661.2 309.8,656.8 315.5,650.5 319.8,643.1 322.8,641.1 327.7,639.3Z"/>
<path fill="#fa9e5a" fill-rule="evenodd" d="M331.5,642.2 335.9,639.8 337.4,639.6 338.8,640.2 344.9,645.2 346.9,648.1 348,651 348,653.9 345.7,661.2 345.1,668.5 345.1,684.6 346.6,693.3 346.1,696.3 344.6,699.6 341.6,702.1 341,705 340.3,714.2 338.8,714.8 337.4,716.2 333.9,722.5 333.7,724 333.9,728.4 333.6,729.8 331.5,731.5 325.7,732.8 324.2,734 323.4,735.6 323,740 323,759 283,759 283.1,750.2 283.9,747.3 299.7,731.3 300.4,729.8 302.3,722.5 303.8,721.4 305.2,721.8 306.4,724 308.2,725.3 311.1,725.9 315.5,726 319.9,725.4 321.3,724.5 322.5,722.5 322.6,718.1 321.3,715.5 318.4,714.2 311.9,713.8 311.1,712.3 310.9,700.6 309.3,693.3 308.7,687.5 306.4,681.6 306.6,680.2 309,674.4 309.4,665.6 309.9,662.7 312.5,657.5 317.3,652.5 320.3,648.1 322.8,645.6 325.7,644.1ZM308.2,715.3 309.7,715.2 309.6,716.9 308.2,718.6 306.7,718.8 306.3,718.1 306.6,716.7Z"/>
<path fill="#f06744" fill-rule="evenodd" d="M322.7,649.5 325.7,647.3 328.6,647 334.4,648 340.3,648.2 341.7,648.5 343.3,649.5 343.8,651 343.6,652.5 341.4,656.8 340.4,662.7 339.6,664.1 337.4,665.6 333,666.3 331.2,667.1 328.6,669.8 326.6,672.9 326.1,674.4 326.2,675.8 327.1,678 329.7,681.6 331.4,683.1 334.4,684 340.3,684.1 340.8,688.9 340.3,690 337.4,690.9 333.1,694.8 331.5,695.5 327.1,696 316.9,695.9 315.5,695.4 313.6,693.3 311.7,681.6 312.6,674.4 312.9,664.1 313.7,661.2 314.6,659.8 319.7,653.9ZM341.2,691.9 341.7,690.6 343.2,691.7 343.5,693.3 342.7,694.8 341.7,695.3ZM330.1,710.8 331.5,709.8 333,710.2 333.4,710.8 333.5,712.3 333,714.8 331.5,716.9 330.1,716.4 329.6,715.2 329.6,712.3Z"/>
<path fill="#d1394e" fill-rule="evenodd" d="M325.4,649.5 327.1,649.3 328.6,650 329.6,651 330.1,652.5 330.1,653.9 329,656.8 327.6,658.3 325.7,659.3 324.2,659.5 323.4,658.3 323.2,653.9 323.9,651ZM319.8,661.7 321.9,661.2 322.8,662.7 322.7,667.1 321,674.4 322.7,684.6 321.7,687.5 319.8,688.3 318.3,687.5 317.4,684.6 317.3,667.1 317.8,664.1 318.4,663.1Z"/>
<ellipse cx="341.0" cy="678.4" rx="12.8" ry="13.0" fill="#fff"/>
<g transform="translate(341.0,678.4) scale(0.9681,0.9841)"><use href="#grat"/><use href="#coast"/>
<g fill="none" stroke="#222" stroke-width="0.7" stroke-linejoin="round"><circle r="1.7" fill="#fff"/><path d="M0,1.7 L-0.3,8.4 L2.7,12.3"/><path d="M-5.8,11.6 L-4.6,7 L-1.6,8.8"/></g>
</g>
<path d="M364.2,652.8 363.9,652.0 363.5,650.9 363.1,649.6 362.5,648.1 361.8,646.5 361.0,644.8 360.0,642.9 358.8,640.8 357.5,638.5 356.1,636.2 354.6,634.0 353.0,632.0 351.3,630.1 349.6,628.2 347.7,626.4 345.8,624.8 343.8,623.4 341.8,622.4 339.8,621.7 337.7,621.2 335.5,621.0 333.3,621.1 331.2,621.3 329.0,621.8 326.8,622.4 324.7,623.3 322.5,624.4 320.3,625.7 318.2,627.2 316.2,628.8 314.2,630.6 312.2,632.5 310.3,634.6 308.4,636.9 306.7,639.2 305.0,641.6 303.4,644.0 301.9,646.6 300.4,649.2 299.1,651.9 297.9,654.7 297.0,657.6 296.4,660.7 296.2,663.9 296.1,667.2 296.1,670.5 295.9,673.7 295.4,676.8 294.6,679.7 293.4,682.5 292.2,685.2 291.0,687.8 289.8,690.4 289.0,692.8 288.3,695.1 287.8,697.2 287.3,699.2 287.0,701.2 287.1,703.3 287.4,705.6 288.1,708.2 289.2,710.9 290.6,713.8 292.1,716.6 293.8,719.3 295.4,721.6 297.1,723.6 298.8,725.4 300.7,727.0 302.6,728.5 304.6,729.9 306.6,731.2 308.6,732.5 310.7,733.7 312.8,734.8 315.0,735.8 317.2,736.8 319.4,737.6 321.8,738.3 324.3,739.0 326.8,739.5 329.3,740.0 331.7,740.4 333.8,740.8 335.8,741.2 337.7,741.5 339.5,741.8 341.1,742.0 342.4,742.2 343.4,742.4" fill="none" stroke="#1a1a1a" stroke-width="0.75" stroke-dasharray="3.6 1.4 0.9 1.4"/>
<path d="M326.9,647.1 330.9,650.5" fill="none" stroke="#0d0d0d" stroke-width="1.7" stroke-dasharray="4.6 2" stroke-linejoin="round" stroke-linecap="butt"/>
<path d="M333.3,652.5 333.8,652.1 334.5,651.6 335.3,651.0 336.2,650.4 337.1,649.8 337.9,649.3 338.6,648.8 339.3,648.4 340.0,647.9 340.7,647.6 341.4,647.3 342.1,647.3 342.8,647.5 343.5,647.8 344.2,648.2 344.9,648.8 345.5,649.4 346.1,650.1 346.7,651.0 347.2,652.1 347.8,653.3 348.2,654.4 348.6,655.4 348.9,656.1" fill="none" stroke="#0d0d0d" stroke-width="1.7" stroke-dasharray="4.6 2" stroke-linejoin="round" stroke-linecap="butt"/>
<path d="M320.9,650.1 324.1,654.1 320.9,658.5" fill="none" stroke="#0d0d0d" stroke-width="1.7" stroke-dasharray="4.6 2" stroke-linejoin="round" stroke-linecap="butt"/>
<path d="M321.3,661.7 324.1,666.1" fill="none" stroke="#0d0d0d" stroke-width="1.7" stroke-dasharray="4.6 2" stroke-linejoin="round" stroke-linecap="butt"/>
<path d="M310.9,669.1 314.9,673.3 312.1,678.1 314.9,683.3" fill="none" stroke="#0d0d0d" stroke-width="1.7" stroke-dasharray="4.6 2" stroke-linejoin="round" stroke-linecap="butt"/>
<path d="M320.9,673.3 324.9,678.1 320.9,683.3" fill="none" stroke="#0d0d0d" stroke-width="1.7" stroke-dasharray="4.6 2" stroke-linejoin="round" stroke-linecap="butt"/>
<path d="M310.9,688.1 312.9,694.5" fill="none" stroke="#0d0d0d" stroke-width="1.7" stroke-dasharray="4.6 2" stroke-linejoin="round" stroke-linecap="butt"/>
<path d="M316.9,686.1 320.9,690.1 324.9,694.1" fill="none" stroke="#0d0d0d" stroke-width="1.7" stroke-dasharray="4.6 2" stroke-linejoin="round" stroke-linecap="butt"/>
<path d="M326.9,692.1 327.3,692.5 328.0,692.9 328.7,693.5 329.5,694.1 330.2,694.8 330.9,695.3 331.4,695.8 331.9,696.4 332.4,697.0 332.9,697.5 333.4,697.9 334.1,698.1 335.0,698.0 336.1,697.7 337.3,697.3 338.4,696.8 339.4,696.4 340.1,696.1" fill="none" stroke="#0d0d0d" stroke-width="1.7" stroke-dasharray="4.6 2" stroke-linejoin="round" stroke-linecap="butt"/>
<path d="M307.7,701.3 309.3,704.9 311.7,705.7" fill="none" stroke="#0d0d0d" stroke-width="1.6" stroke-linejoin="round" stroke-linecap="round"/>
<path d="M320.5,700.5 322.1,704.1 324.5,705.3" fill="none" stroke="#0d0d0d" stroke-width="1.6" stroke-linejoin="round" stroke-linecap="round"/>
<path d="M333.3,713.7 333.8,713.5 334.4,713.2 335.2,712.9 336.0,712.6 336.7,712.4 337.3,712.5 337.7,712.8 338.0,713.3 338.3,714.0 338.5,714.7 338.5,715.4 338.5,716.1 338.3,716.8 338.0,717.5 337.5,718.2 337.1,718.9 336.6,719.4 336.1,719.7 335.6,719.8 335.1,719.6 334.5,719.3 334.0,719.0 333.6,718.7 333.3,718.5" fill="none" stroke="#0d0d0d" stroke-width="1.6" stroke-linejoin="round" stroke-linecap="round"/>
<path d="M295.4,725.4 299.6,726.7 302.8,730.6 298.3,729.9Z" fill="#0d0d0d" stroke="#0d0d0d" stroke-width="0.6"/>
</g></g>
<ellipse cx="341.0" cy="678.4" rx="66.8" ry="67.9" fill="none" stroke="#3a3a3a" stroke-width="0.75"/>
<rect x="445.6" y="743.76" width="10.4" height="14.74" fill="#5e4fa2"/>
<rect x="445.6" y="729.33" width="10.4" height="14.74" fill="#3484bb"/>
<rect x="445.6" y="714.89" width="10.4" height="14.74" fill="#5cb7aa"/>
<rect x="445.6" y="700.45" width="10.4" height="14.74" fill="#97d5a4"/>
<rect x="445.6" y="686.02" width="10.4" height="14.74" fill="#d4ee9c"/>
<rect x="445.6" y="671.58" width="10.4" height="14.74" fill="#fbeea5"/>
<rect x="445.6" y="657.15" width="10.4" height="14.74" fill="#fed07d"/>
<rect x="445.6" y="642.71" width="10.4" height="14.74" fill="#fa9e5a"/>
<rect x="445.6" y="628.27" width="10.4" height="14.74" fill="#f06744"/>
<rect x="445.6" y="613.84" width="10.4" height="14.74" fill="#d1394e"/>
<rect x="445.6" y="599.40" width="10.4" height="14.74" fill="#9e0142"/>
<rect x="445.6" y="599.4" width="10.4" height="158.80" fill="none" stroke="#4a4a4a" stroke-width="0.9"/>
<line x1="454.0" y1="758.20" x2="456.0" y2="758.20" stroke="#333" stroke-width="0.7"/>
<text class="tk" transform="translate(458.4,761.30) scale(0.88,1)">0</text>
<line x1="454.0" y1="743.76" x2="456.0" y2="743.76" stroke="#333" stroke-width="0.7"/>
<text class="tk" transform="translate(458.4,746.86) scale(0.88,1)">0.015</text>
<line x1="454.0" y1="729.33" x2="456.0" y2="729.33" stroke="#333" stroke-width="0.7"/>
<text class="tk" transform="translate(458.4,732.43) scale(0.88,1)">0.03</text>
<line x1="454.0" y1="714.89" x2="456.0" y2="714.89" stroke="#333" stroke-width="0.7"/>
<text class="tk" transform="translate(458.4,717.99) scale(0.88,1)">0.045</text>
<line x1="454.0" y1="700.45" x2="456.0" y2="700.45" stroke="#333" stroke-width="0.7"/>
<text class="tk" transform="translate(458.4,703.55) scale(0.88,1)">0.06</text>
<line x1="454.0" y1="686.02" x2="456.0" y2="686.02" stroke="#333" stroke-width="0.7"/>
<text class="tk" transform="translate(458.4,689.12) scale(0.88,1)">0.075</text>
<line x1="454.0" y1="671.58" x2="456.0" y2="671.58" stroke="#333" stroke-width="0.7"/>
<text class="tk" transform="translate(458.4,674.68) scale(0.88,1)">0.09</text>
<line x1="454.0" y1="657.15" x2="456.0" y2="657.15" stroke="#333" stroke-width="0.7"/>
<text class="tk" transform="translate(458.4,660.25) scale(0.88,1)">0.105</text>
<line x1="454.0" y1="642.71" x2="456.0" y2="642.71" stroke="#333" stroke-width="0.7"/>
<text class="tk" transform="translate(458.4,645.81) scale(0.88,1)">0.12</text>
<line x1="454.0" y1="628.27" x2="456.0" y2="628.27" stroke="#333" stroke-width="0.7"/>
<text class="tk" transform="translate(458.4,631.37) scale(0.88,1)">0.135</text>
<line x1="454.0" y1="613.84" x2="456.0" y2="613.84" stroke="#333" stroke-width="0.7"/>
<text class="tk" transform="translate(458.4,616.94) scale(0.88,1)">0.15</text>
<line x1="454.0" y1="599.40" x2="456.0" y2="599.40" stroke="#333" stroke-width="0.7"/>
<text class="tk" transform="translate(458.4,602.50) scale(0.88,1)">0.165</text>
<text class="ct" transform="translate(492.1,678.8) rotate(-90)" text-anchor="middle">Concentration CO (ppmv)</text>
<text class="lb" transform="translate(4.9,17.5) scale(1.16,1)">(a)</text>
<text class="lb" transform="translate(260.7,17.5) scale(1.16,1)">(b)</text>
<text class="lb" transform="translate(4.9,207) scale(1.16,1)">(c)</text>
<text class="lb" transform="translate(260.7,207) scale(1.16,1)">(d)</text>
<text class="lb" transform="translate(4.9,397) scale(1.16,1)">(e)</text>
<text class="lb" transform="translate(260.9,397.5) scale(1.16,1)">(f)</text>
<text class="lb" transform="translate(4.9,586) scale(1.16,1)">(g)</text>
<text class="lb" transform="translate(260.9,587) scale(1.16,1)">(h)</text>
<text class="tt" transform="translate(85.7,31.5) scale(0.9,1)" text-anchor="middle">2005</text>
<text class="tt" transform="translate(85.9,221.5) scale(0.9,1)" text-anchor="middle">2006</text>
<text class="tt" transform="translate(85.8,411) scale(0.9,1)" text-anchor="middle">2010</text>
<text class="tt" transform="translate(88,599) scale(0.9,1)" text-anchor="middle">2011</text>
</svg>
</body></html>
